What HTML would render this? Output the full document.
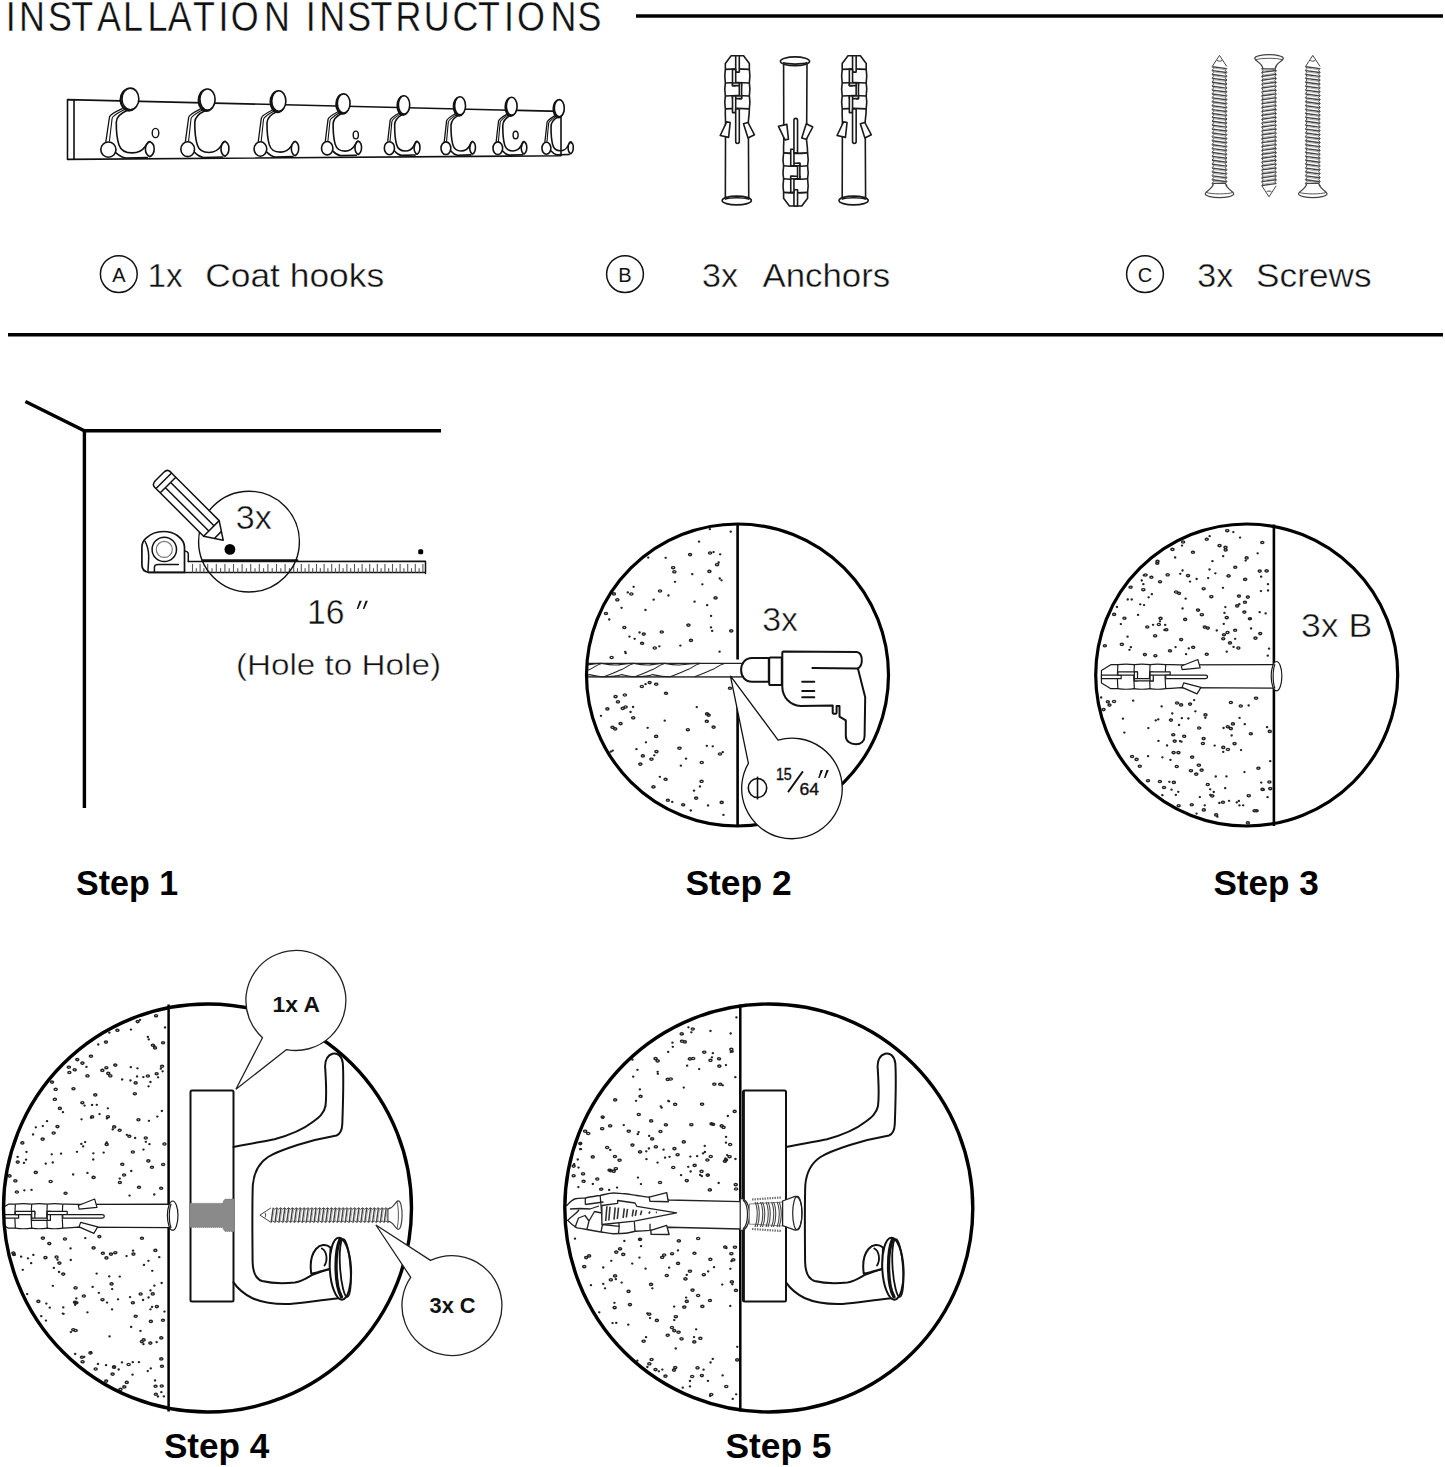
<!DOCTYPE html>
<html><head><meta charset="utf-8">
<style>
html,body{margin:0;padding:0;background:#fff;overflow:hidden;}
svg{display:block;}
text{font-family:"Liberation Sans",sans-serif;}
</style></head>
<body>
<svg width="1445" height="1467" viewBox="0 0 1445 1467">
<rect width="1445" height="1467" fill="#fff"/>
<g font-size="43.2" fill="#111" stroke="#fff" stroke-width="0.35"><text transform="translate(5.8500000000000005,31.2) scale(0.83,1)">I</text><text transform="translate(19.11,31.2) scale(0.83,1)">N</text><text transform="translate(47.92,31.2) scale(0.83,1)">S</text><text transform="translate(71.18,31.2) scale(0.83,1)">T</text><text transform="translate(97.12,31.2) scale(0.83,1)">A</text><text transform="translate(123.12,31.2) scale(0.83,1)">L</text><text transform="translate(147.57,31.2) scale(0.83,1)">L</text><text transform="translate(167.87,31.2) scale(0.83,1)">A</text><text transform="translate(192.88,31.2) scale(0.83,1)">T</text><text transform="translate(218.4,31.2) scale(0.83,1)">I</text><text transform="translate(230.8,31.2) scale(0.83,1)">O</text><text transform="translate(263.90999999999997,31.2) scale(0.83,1)">N</text><text transform="translate(305.84999999999997,31.2) scale(0.83,1)">I</text><text transform="translate(319.21,31.2) scale(0.83,1)">N</text><text transform="translate(347.37,31.2) scale(0.83,1)">S</text><text transform="translate(370.58,31.2) scale(0.83,1)">T</text><text transform="translate(395.52,31.2) scale(0.83,1)">R</text><text transform="translate(423.85999999999996,31.2) scale(0.83,1)">U</text><text transform="translate(452.38,31.2) scale(0.83,1)">C</text><text transform="translate(477.88,31.2) scale(0.83,1)">T</text><text transform="translate(504.0,31.2) scale(0.83,1)">I</text><text transform="translate(516.9,31.2) scale(0.83,1)">O</text><text transform="translate(550.61,31.2) scale(0.83,1)">N</text><text transform="translate(577.62,31.2) scale(0.83,1)">S</text></g>
<line x1="636" y1="16" x2="1443" y2="16" stroke="#000" stroke-width="3.6"/>
<line x1="8" y1="334.8" x2="1443" y2="334.8" stroke="#000" stroke-width="3.6"/>
<g fill="none" stroke="#111" stroke-width="1.5"><circle cx="118.8" cy="274.1" r="18.4"/><circle cx="625" cy="274.1" r="18.4"/><circle cx="1145" cy="274.1" r="18.4"/></g>
<g font-size="20" fill="#111" text-anchor="middle"><text x="118.8" y="281.5">A</text><text x="625" y="281.5">B</text><text x="1145" y="281.5">C</text></g>
<g font-size="32.6" fill="#111" stroke="#fff" stroke-width="0.4"><text x="147.5" y="286.5" textLength="35.2" lengthAdjust="spacingAndGlyphs">1x</text><text x="205.2" y="286.5" textLength="179" lengthAdjust="spacingAndGlyphs">Coat hooks</text><text x="702" y="286.5" textLength="36" lengthAdjust="spacingAndGlyphs">3x</text><text x="762.4" y="286.5" textLength="127.8" lengthAdjust="spacingAndGlyphs">Anchors</text><text x="1197.3" y="286.5" textLength="36" lengthAdjust="spacingAndGlyphs">3x</text><text x="1256.1" y="286.5" textLength="115.5" lengthAdjust="spacingAndGlyphs">Screws</text></g>
<g fill="none" stroke="#111" stroke-width="1.3" stroke-linejoin="round" stroke-linecap="round">
<path d="M67.5,99.6 L561,111.4 M67.5,159.4 L561,155.8 M67.5,99.6 L67.5,159.4 M74,99.8 L74,159.4 M561,111.4 L561,155.8" stroke-width="1.6"/>
</g>
<g transform="translate(108.4,149.6) scale(1,1) translate(-108.4,-149.6)"><g fill="none" stroke="#111" stroke-linejoin="round" stroke-linecap="round"><ellipse vector-effect="non-scaling-stroke" cx="129" cy="99.8" rx="8.45" ry="10.8" fill="#fff" stroke-width="2.2"/><ellipse vector-effect="non-scaling-stroke" cx="130.4" cy="98.9" rx="8.45" ry="10.8" fill="#fff" stroke-width="1.6"/><path vector-effect="non-scaling-stroke" d="M122.3,108.7 C115,112 110,114.5 109.5,117 L105.9,141.4" stroke-width="1.3"/><path vector-effect="non-scaling-stroke" d="M124.7,109.5 C118,113 112.5,115.5 112.1,118.5 L109.4,141.2" stroke-width="1.1"/><path vector-effect="non-scaling-stroke" d="M127.6,110.3 C120,113.5 116.5,117 116.3,122 C116.2,130 117,139 119,145 C121,151 125.5,152.9 132.1,152.9 C138,152.9 142.5,150.5 145.2,146.5 L148.4,142" stroke-width="1.6"/><path vector-effect="non-scaling-stroke" d="M116,152.9 C119,155.5 121.5,157.5 126,158 L147.3,157.6" stroke-width="1.6"/><circle vector-effect="non-scaling-stroke" cx="108.4" cy="149.6" r="7.6" fill="#fff" stroke-width="1.6"/><path vector-effect="non-scaling-stroke" d="M149.8,141.5 C153,143 154.3,146.5 154.2,149.1 C154.1,152.5 152.5,155.5 149.8,156.7 C147,155.5 145.4,152.5 145.4,149.1 C145.5,145.5 147,143 149.8,141.5 Z" fill="#fff" stroke-width="1.6"/></g></g>
<g transform="translate(187.7,149.2) scale(0.9,0.98) translate(-108.4,-149.6)"><g fill="none" stroke="#111" stroke-linejoin="round" stroke-linecap="round"><ellipse vector-effect="non-scaling-stroke" cx="129" cy="99.8" rx="8.45" ry="10.8" fill="#fff" stroke-width="2.2"/><ellipse vector-effect="non-scaling-stroke" cx="130.4" cy="98.9" rx="8.45" ry="10.8" fill="#fff" stroke-width="1.6"/><path vector-effect="non-scaling-stroke" d="M122.3,108.7 C115,112 110,114.5 109.5,117 L105.9,141.4" stroke-width="1.3"/><path vector-effect="non-scaling-stroke" d="M124.7,109.5 C118,113 112.5,115.5 112.1,118.5 L109.4,141.2" stroke-width="1.1"/><path vector-effect="non-scaling-stroke" d="M127.6,110.3 C120,113.5 116.5,117 116.3,122 C116.2,130 117,139 119,145 C121,151 125.5,152.9 132.1,152.9 C138,152.9 142.5,150.5 145.2,146.5 L148.4,142" stroke-width="1.6"/><path vector-effect="non-scaling-stroke" d="M116,152.9 C119,155.5 121.5,157.5 126,158 L147.3,157.6" stroke-width="1.6"/><circle vector-effect="non-scaling-stroke" cx="108.4" cy="149.6" r="7.6" fill="#fff" stroke-width="1.6"/><path vector-effect="non-scaling-stroke" d="M149.8,141.5 C153,143 154.3,146.5 154.2,149.1 C154.1,152.5 152.5,155.5 149.8,156.7 C147,155.5 145.4,152.5 145.4,149.1 C145.5,145.5 147,143 149.8,141.5 Z" fill="#fff" stroke-width="1.6"/></g></g>
<g transform="translate(260.4,149) scale(0.836,0.947) translate(-108.4,-149.6)"><g fill="none" stroke="#111" stroke-linejoin="round" stroke-linecap="round"><ellipse vector-effect="non-scaling-stroke" cx="129" cy="99.8" rx="8.45" ry="10.8" fill="#fff" stroke-width="2.2"/><ellipse vector-effect="non-scaling-stroke" cx="130.4" cy="98.9" rx="8.45" ry="10.8" fill="#fff" stroke-width="1.6"/><path vector-effect="non-scaling-stroke" d="M122.3,108.7 C115,112 110,114.5 109.5,117 L105.9,141.4" stroke-width="1.3"/><path vector-effect="non-scaling-stroke" d="M124.7,109.5 C118,113 112.5,115.5 112.1,118.5 L109.4,141.2" stroke-width="1.1"/><path vector-effect="non-scaling-stroke" d="M127.6,110.3 C120,113.5 116.5,117 116.3,122 C116.2,130 117,139 119,145 C121,151 125.5,152.9 132.1,152.9 C138,152.9 142.5,150.5 145.2,146.5 L148.4,142" stroke-width="1.6"/><path vector-effect="non-scaling-stroke" d="M116,152.9 C119,155.5 121.5,157.5 126,158 L147.3,157.6" stroke-width="1.6"/><circle vector-effect="non-scaling-stroke" cx="108.4" cy="149.6" r="7.6" fill="#fff" stroke-width="1.6"/><path vector-effect="non-scaling-stroke" d="M149.8,141.5 C153,143 154.3,146.5 154.2,149.1 C154.1,152.5 152.5,155.5 149.8,156.7 C147,155.5 145.4,152.5 145.4,149.1 C145.5,145.5 147,143 149.8,141.5 Z" fill="#fff" stroke-width="1.6"/></g></g>
<g transform="translate(327.2,148.2) scale(0.75,0.884) translate(-108.4,-149.6)"><g fill="none" stroke="#111" stroke-linejoin="round" stroke-linecap="round"><ellipse vector-effect="non-scaling-stroke" cx="129" cy="99.8" rx="8.45" ry="10.8" fill="#fff" stroke-width="2.2"/><ellipse vector-effect="non-scaling-stroke" cx="130.4" cy="98.9" rx="8.45" ry="10.8" fill="#fff" stroke-width="1.6"/><path vector-effect="non-scaling-stroke" d="M122.3,108.7 C115,112 110,114.5 109.5,117 L105.9,141.4" stroke-width="1.3"/><path vector-effect="non-scaling-stroke" d="M124.7,109.5 C118,113 112.5,115.5 112.1,118.5 L109.4,141.2" stroke-width="1.1"/><path vector-effect="non-scaling-stroke" d="M127.6,110.3 C120,113.5 116.5,117 116.3,122 C116.2,130 117,139 119,145 C121,151 125.5,152.9 132.1,152.9 C138,152.9 142.5,150.5 145.2,146.5 L148.4,142" stroke-width="1.6"/><path vector-effect="non-scaling-stroke" d="M116,152.9 C119,155.5 121.5,157.5 126,158 L147.3,157.6" stroke-width="1.6"/><circle vector-effect="non-scaling-stroke" cx="108.4" cy="149.6" r="7.6" fill="#fff" stroke-width="1.6"/><path vector-effect="non-scaling-stroke" d="M149.8,141.5 C153,143 154.3,146.5 154.2,149.1 C154.1,152.5 152.5,155.5 149.8,156.7 C147,155.5 145.4,152.5 145.4,149.1 C145.5,145.5 147,143 149.8,141.5 Z" fill="#fff" stroke-width="1.6"/></g></g>
<g transform="translate(389.4,148.2) scale(0.667,0.854) translate(-108.4,-149.6)"><g fill="none" stroke="#111" stroke-linejoin="round" stroke-linecap="round"><ellipse vector-effect="non-scaling-stroke" cx="129" cy="99.8" rx="8.45" ry="10.8" fill="#fff" stroke-width="2.2"/><ellipse vector-effect="non-scaling-stroke" cx="130.4" cy="98.9" rx="8.45" ry="10.8" fill="#fff" stroke-width="1.6"/><path vector-effect="non-scaling-stroke" d="M122.3,108.7 C115,112 110,114.5 109.5,117 L105.9,141.4" stroke-width="1.3"/><path vector-effect="non-scaling-stroke" d="M124.7,109.5 C118,113 112.5,115.5 112.1,118.5 L109.4,141.2" stroke-width="1.1"/><path vector-effect="non-scaling-stroke" d="M127.6,110.3 C120,113.5 116.5,117 116.3,122 C116.2,130 117,139 119,145 C121,151 125.5,152.9 132.1,152.9 C138,152.9 142.5,150.5 145.2,146.5 L148.4,142" stroke-width="1.6"/><path vector-effect="non-scaling-stroke" d="M116,152.9 C119,155.5 121.5,157.5 126,158 L147.3,157.6" stroke-width="1.6"/><circle vector-effect="non-scaling-stroke" cx="108.4" cy="149.6" r="7.6" fill="#fff" stroke-width="1.6"/><path vector-effect="non-scaling-stroke" d="M149.8,141.5 C153,143 154.3,146.5 154.2,149.1 C154.1,152.5 152.5,155.5 149.8,156.7 C147,155.5 145.4,152.5 145.4,149.1 C145.5,145.5 147,143 149.8,141.5 Z" fill="#fff" stroke-width="1.6"/></g></g>
<g transform="translate(445.9,148.2) scale(0.645,0.836) translate(-108.4,-149.6)"><g fill="none" stroke="#111" stroke-linejoin="round" stroke-linecap="round"><ellipse vector-effect="non-scaling-stroke" cx="129" cy="99.8" rx="8.45" ry="10.8" fill="#fff" stroke-width="2.2"/><ellipse vector-effect="non-scaling-stroke" cx="130.4" cy="98.9" rx="8.45" ry="10.8" fill="#fff" stroke-width="1.6"/><path vector-effect="non-scaling-stroke" d="M122.3,108.7 C115,112 110,114.5 109.5,117 L105.9,141.4" stroke-width="1.3"/><path vector-effect="non-scaling-stroke" d="M124.7,109.5 C118,113 112.5,115.5 112.1,118.5 L109.4,141.2" stroke-width="1.1"/><path vector-effect="non-scaling-stroke" d="M127.6,110.3 C120,113.5 116.5,117 116.3,122 C116.2,130 117,139 119,145 C121,151 125.5,152.9 132.1,152.9 C138,152.9 142.5,150.5 145.2,146.5 L148.4,142" stroke-width="1.6"/><path vector-effect="non-scaling-stroke" d="M116,152.9 C119,155.5 121.5,157.5 126,158 L147.3,157.6" stroke-width="1.6"/><circle vector-effect="non-scaling-stroke" cx="108.4" cy="149.6" r="7.6" fill="#fff" stroke-width="1.6"/><path vector-effect="non-scaling-stroke" d="M149.8,141.5 C153,143 154.3,146.5 154.2,149.1 C154.1,152.5 152.5,155.5 149.8,156.7 C147,155.5 145.4,152.5 145.4,149.1 C145.5,145.5 147,143 149.8,141.5 Z" fill="#fff" stroke-width="1.6"/></g></g>
<g transform="translate(497.8,148.2) scale(0.633,0.828) translate(-108.4,-149.6)"><g fill="none" stroke="#111" stroke-linejoin="round" stroke-linecap="round"><ellipse vector-effect="non-scaling-stroke" cx="129" cy="99.8" rx="8.45" ry="10.8" fill="#fff" stroke-width="2.2"/><ellipse vector-effect="non-scaling-stroke" cx="130.4" cy="98.9" rx="8.45" ry="10.8" fill="#fff" stroke-width="1.6"/><path vector-effect="non-scaling-stroke" d="M122.3,108.7 C115,112 110,114.5 109.5,117 L105.9,141.4" stroke-width="1.3"/><path vector-effect="non-scaling-stroke" d="M124.7,109.5 C118,113 112.5,115.5 112.1,118.5 L109.4,141.2" stroke-width="1.1"/><path vector-effect="non-scaling-stroke" d="M127.6,110.3 C120,113.5 116.5,117 116.3,122 C116.2,130 117,139 119,145 C121,151 125.5,152.9 132.1,152.9 C138,152.9 142.5,150.5 145.2,146.5 L148.4,142" stroke-width="1.6"/><path vector-effect="non-scaling-stroke" d="M116,152.9 C119,155.5 121.5,157.5 126,158 L147.3,157.6" stroke-width="1.6"/><circle vector-effect="non-scaling-stroke" cx="108.4" cy="149.6" r="7.6" fill="#fff" stroke-width="1.6"/><path vector-effect="non-scaling-stroke" d="M149.8,141.5 C153,143 154.3,146.5 154.2,149.1 C154.1,152.5 152.5,155.5 149.8,156.7 C147,155.5 145.4,152.5 145.4,149.1 C145.5,145.5 147,143 149.8,141.5 Z" fill="#fff" stroke-width="1.6"/></g></g>
<g transform="translate(546.4,148.2) scale(0.587,0.79) translate(-108.4,-149.6)"><g fill="none" stroke="#111" stroke-linejoin="round" stroke-linecap="round"><ellipse vector-effect="non-scaling-stroke" cx="129" cy="99.8" rx="8.45" ry="10.8" fill="#fff" stroke-width="2.2"/><ellipse vector-effect="non-scaling-stroke" cx="130.4" cy="98.9" rx="8.45" ry="10.8" fill="#fff" stroke-width="1.6"/><path vector-effect="non-scaling-stroke" d="M122.3,108.7 C115,112 110,114.5 109.5,117 L105.9,141.4" stroke-width="1.3"/><path vector-effect="non-scaling-stroke" d="M124.7,109.5 C118,113 112.5,115.5 112.1,118.5 L109.4,141.2" stroke-width="1.1"/><path vector-effect="non-scaling-stroke" d="M127.6,110.3 C120,113.5 116.5,117 116.3,122 C116.2,130 117,139 119,145 C121,151 125.5,152.9 132.1,152.9 C138,152.9 142.5,150.5 145.2,146.5 L148.4,142" stroke-width="1.6"/><path vector-effect="non-scaling-stroke" d="M116,152.9 C119,155.5 121.5,157.5 126,158 L147.3,157.6" stroke-width="1.6"/><circle vector-effect="non-scaling-stroke" cx="108.4" cy="149.6" r="7.6" fill="#fff" stroke-width="1.6"/><path vector-effect="non-scaling-stroke" d="M149.8,141.5 C153,143 154.3,146.5 154.2,149.1 C154.1,152.5 152.5,155.5 149.8,156.7 C147,155.5 145.4,152.5 145.4,149.1 C145.5,145.5 147,143 149.8,141.5 Z" fill="#fff" stroke-width="1.6"/></g></g>
<ellipse cx="155.5" cy="133" rx="3.3" ry="4.6" fill="none" stroke="#111" stroke-width="1.4"/>
<ellipse cx="355.8" cy="135" rx="2.6" ry="3.9" fill="none" stroke="#111" stroke-width="1.4"/>
<ellipse cx="515.6" cy="135" rx="2.5" ry="3.8" fill="none" stroke="#111" stroke-width="1.4"/>
<defs><g id="anc"><g fill="#fff" stroke="#1a1a1a" stroke-width="1.6" stroke-linejoin="round"><path d="M-12,8 L-6.2,0.2 L6.2,0.2 L12,8 L12,13.8 C12.7,18 12.7,23 12,27.4 C12.7,31 12.7,36 12,40.4 C12.7,44 12.7,49 12,53.3 C12,58 11.4,62 11,65.6 L11.4,142.4 L-12,142.4 L-11.8,65.6 C-12,62 -12.2,58 -12,53.3 C-12.7,49 -12.7,44 -12,40.4 C-12.7,36 -12.7,31 -12,27.4 C-12.7,23 -12.7,18 -12,13.8 Z"/><path fill="none" d="M-12,13.8 C-6,13.3 6,13.3 12,13.8 M-12,27.4 C-6,26.9 6,26.9 12,27.4 M-12,40.4 C-6,39.9 6,39.9 12,40.4 M-12,53.3 C-6,52.8 6,52.8 12,53.3"/><path d="M-1.65,0.2 L1.95,0.2 L1.95,16.5 L-1.65,16.5 Z"/><path d="M-4.85,13.8 L-1.65,13.8 L-1.65,30 L-4.85,30 Z"/><path d="M-4.85,27.4 L4.25,27.4 L4.25,30 L-4.85,30 Z"/><path d="M1.95,27.4 L4.25,27.4 L4.25,43 L1.95,43 Z"/><path d="M-4.85,40.4 L4.25,40.4 L4.25,43 L-4.85,43 Z"/><path d="M-4.85,40.4 L-1.65,40.4 L-1.65,57 L-4.85,57 Z"/><path d="M-1.65,53.3 L1.95,53.3 L1.95,86 C1.95,88.5 -1.65,88.5 -1.65,86 Z"/><path d="M-17.15,79.9 L-10.65,66.3 L-7.15,66.9 L-8.75,81.8 Z M6.15,68.2 L10.65,66.9 L17.15,79.2 L10.65,82.4 Z"/><ellipse cx="-0.6" cy="144.9" rx="14.6" ry="4.4"/><path fill="none" d="M-12.5,143.6 C-7,141.6 6,141.6 11.8,143.6"/></g></g></defs>
<use href="#anc" transform="translate(737.35,55.6)"/>
<use href="#anc" transform="translate(795.6,206.2) scale(1,-1)"/>
<use href="#anc" transform="translate(854.2,55.6)"/>
<defs><g id="scr"><g fill="none" stroke="#444" stroke-width="1.0" stroke-linejoin="round"><path d="M-7.2,11 L0,0 L7.2,11" fill="#fff"/><path d="M-2.5,5 C-1,6 1,6 2.5,5"/><path d="M-7.4,11.0 L-5.8,12.9 L-7.4,14.9 L-5.8,16.9 L-7.4,18.8 L-5.8,20.8 L-7.4,22.7 L-5.8,24.6 L-7.4,26.6 L-5.8,28.6 L-7.4,30.5 L-5.8,32.5 L-7.4,34.4 L-5.8,36.4 L-7.4,38.3 L-5.8,40.2 L-7.4,42.2 L-5.8,44.2 L-7.4,46.1 L-5.8,48.1 L-7.4,50.0 L-5.8,52.0 L-7.4,53.9 L-5.8,55.9 L-7.4,57.8 L-5.8,59.8 L-7.4,61.7 L-5.8,63.6 L-7.4,65.6 L-5.8,67.5 L-7.4,69.5 L-5.8,71.5 L-7.4,73.4 L-5.8,75.4 L-7.4,77.3 L-5.8,79.2 L-7.4,81.2 L-5.8,83.2 L-7.4,85.1 L-5.8,87.0 L-7.4,89.0 L-5.8,91.0 L-7.4,92.9 L-5.8,94.8 L-7.4,96.8 L-5.8,98.8 L-7.4,100.7 L-5.8,102.7 L-7.4,104.6 L-5.8,106.5 L-7.4,108.5 L-5.8,110.5 L-7.4,112.4 L-5.8,114.3 L-7.4,116.3 L-5.8,118.2 L-7.4,120.2 L-5.8,122.2 L-7.4,124.1 L-5.8,126.0 L-7.4,128.0 L-5.8,129.9"/><path d="M7.4,12.9 L5.8,14.9 L7.4,16.9 L5.8,18.8 L7.4,20.8 L5.8,22.7 L7.4,24.6 L5.8,26.6 L7.4,28.6 L5.8,30.5 L7.4,32.5 L5.8,34.4 L7.4,36.4 L5.8,38.3 L7.4,40.2 L5.8,42.2 L7.4,44.2 L5.8,46.1 L7.4,48.1 L5.8,50.0 L7.4,52.0 L5.8,53.9 L7.4,55.9 L5.8,57.8 L7.4,59.8 L5.8,61.7 L7.4,63.6 L5.8,65.6 L7.4,67.5 L5.8,69.5 L7.4,71.5 L5.8,73.4 L7.4,75.4 L5.8,77.3 L7.4,79.2 L5.8,81.2 L7.4,83.2 L5.8,85.1 L7.4,87.0 L5.8,89.0 L7.4,91.0 L5.8,92.9 L7.4,94.8 L5.8,96.8 L7.4,98.8 L5.8,100.7 L7.4,102.7 L5.8,104.6 L7.4,106.5 L5.8,108.5 L7.4,110.5 L5.8,112.4 L7.4,114.3 L5.8,116.3 L7.4,118.2 L5.8,120.2 L7.4,122.2 L5.8,124.1 L7.4,126.0 L5.8,128.0 L7.4,129.9 L5.8,131.9"/><path d="M-7,11.3 L7,13.2 M-7,15.2 L7,17.1 M-7,19.1 L7,21.0 M-7,23.0 L7,24.9 M-7,26.9 L7,28.8 M-7,30.8 L7,32.7 M-7,34.7 L7,36.6 M-7,38.6 L7,40.5 M-7,42.5 L7,44.4 M-7,46.4 L7,48.3 M-7,50.3 L7,52.2 M-7,54.2 L7,56.1 M-7,58.1 L7,60.0 M-7,62.0 L7,63.9 M-7,65.9 L7,67.8 M-7,69.8 L7,71.7 M-7,73.7 L7,75.6 M-7,77.6 L7,79.5 M-7,81.5 L7,83.4 M-7,85.4 L7,87.3 M-7,89.3 L7,91.2 M-7,93.2 L7,95.1 M-7,97.1 L7,99.0 M-7,101.0 L7,102.9 M-7,104.9 L7,106.8 M-7,108.8 L7,110.7 M-7,112.7 L7,114.6 M-7,116.6 L7,118.5 M-7,120.5 L7,122.4 M-7,124.4 L7,126.3 M-7,128.3 L7,130.2" stroke-width="1.4"/><path d="M-6,12.6 L6,14.4 M-6,16.5 L6,18.3 M-6,20.4 L6,22.2 M-6,24.3 L6,26.1 M-6,28.2 L6,30.0 M-6,32.1 L6,33.9 M-6,36.0 L6,37.8 M-6,39.9 L6,41.7 M-6,43.8 L6,45.6 M-6,47.7 L6,49.5 M-6,51.6 L6,53.4 M-6,55.5 L6,57.3 M-6,59.4 L6,61.2 M-6,63.3 L6,65.1 M-6,67.2 L6,69.0 M-6,71.1 L6,72.9 M-6,75.0 L6,76.8 M-6,78.9 L6,80.7 M-6,82.8 L6,84.6 M-6,86.7 L6,88.5 M-6,90.6 L6,92.4 M-6,94.5 L6,96.3 M-6,98.4 L6,100.2 M-6,102.3 L6,104.1 M-6,106.2 L6,108.0 M-6,110.1 L6,111.9 M-6,114.0 L6,115.8 M-6,117.9 L6,119.7 M-6,121.8 L6,123.6 M-6,125.7 L6,127.5 M-6,129.6 L6,131.4" stroke="#999" stroke-width="0.8"/><path d="M-6,128 C-7,134 -13,135 -14.2,138 C-15,141 -6,142.2 0,142.2 C6,142.2 15,141 14.2,138 C13,135 7,134 6,128 Z" fill="#fff" stroke-width="1.2"/><path d="M-13.5,137 C-8,139 8,139 13.5,137" stroke-width="0.9"/></g></g></defs>
<use href="#scr" transform="translate(1219.5,55.4)"/>
<use href="#scr" transform="translate(1269,196.8) scale(1,-1)"/>
<use href="#scr" transform="translate(1312.8,55.4)"/>
<polyline points="25.4,401.6 84.4,430.7 441,430.7" fill="none" stroke="#000" stroke-width="3.4" stroke-linejoin="miter"/>
<line x1="84.4" y1="430.7" x2="84.4" y2="808" stroke="#000" stroke-width="3.4"/>
<g fill="none" stroke="#111" stroke-width="1.4" stroke-linejoin="round" stroke-linecap="round">
<path d="M148.7,572.4 C144,572 141.9,569 141.9,564.6 L141.9,547.8 C141.9,543 143.5,540 146.4,537.9 C151,533.5 157,531.5 163.2,531.5 C169,531.5 174,533 177.6,535.7 C182,539 184.5,543 184.5,547.1 L184.5,572.4 Z" fill="#fff" stroke-width="1.7"/>
<path d="M184.7,550.9 L186.8,551.6 C187.8,552.2 188.3,553 188.3,554 L188.3,561.5" stroke-width="1.5"/>
<path d="M144.9,541 C147.5,546 148.7,551 148.7,556 C148.7,561 148.3,566 147.9,571.4" stroke-width="1.5"/>
<circle cx="164.3" cy="549.4" r="12.2" stroke-width="1.5"/>
<circle cx="164.3" cy="549.4" r="8" stroke="#777" stroke-width="1.2"/>
<path d="M154.4,572.2 L154.4,567.8 C154.4,565.5 155.8,564.6 158,564.6 L178.4,564.6" stroke-width="1.5"/>
<path d="M188.3,561.5 L425.5,561.3 L425.5,573.6 M148.7,572.6 L425.5,572.2" stroke-width="1.5"/>
<path d="M192.5,572.2 L192.5,564.3 M196.3,572.2 L196.3,568.5 M200.1,572.2 L200.1,564.3 M203.9,572.2 L203.9,568.5 M207.7,572.2 L207.7,564.3 M212.0,572.2 L212.0,568.5 M216.3,572.2 L216.3,564.3 M220.6,572.2 L220.6,568.5 M224.9,572.2 L224.9,564.3 M229.2,572.2 L229.2,568.5 M233.5,572.2 L233.5,564.3 M237.8,572.2 L237.8,568.5 M242.1,572.2 L242.1,564.3 M246.4,572.2 L246.4,568.5 M250.7,572.2 L250.7,564.3 M255.0,572.2 L255.0,568.5 M259.3,572.2 L259.3,564.3 M263.6,572.2 L263.6,568.5 M267.9,572.2 L267.9,564.3 M272.2,572.2 L272.2,568.5 M276.5,572.2 L276.5,564.3 M280.8,572.2 L280.8,568.5 M285.1,572.2 L285.1,564.3 M289.4,572.2 L289.4,568.5 M293.7,572.2 L293.7,564.3 M297.5,572.2 L297.5,568.5 M301.3,572.2 L301.3,564.3 M305.1,572.2 L305.1,568.5 M308.9,572.2 L308.9,564.3 M312.7,572.2 L312.7,568.5 M316.5,572.2 L316.5,564.3 M320.3,572.2 L320.3,568.5 M324.1,572.2 L324.1,564.3 M327.9,572.2 L327.9,568.5 M331.7,572.2 L331.7,564.3 M335.5,572.2 L335.5,568.5 M339.3,572.2 L339.3,564.3 M343.1,572.2 L343.1,568.5 M346.9,572.2 L346.9,564.3 M350.7,572.2 L350.7,568.5 M354.5,572.2 L354.5,564.3 M358.3,572.2 L358.3,568.5 M362.1,572.2 L362.1,564.3 M365.9,572.2 L365.9,568.5 M369.7,572.2 L369.7,564.3 M373.5,572.2 L373.5,568.5 M377.3,572.2 L377.3,564.3 M381.1,572.2 L381.1,568.5 M384.9,572.2 L384.9,564.3 M388.7,572.2 L388.7,568.5 M392.5,572.2 L392.5,564.3 M396.3,572.2 L396.3,568.5 M400.1,572.2 L400.1,564.3 M403.9,572.2 L403.9,568.5 M407.7,572.2 L407.7,564.3 M411.5,572.2 L411.5,568.5 M415.3,572.2 L415.3,564.3 M419.1,572.2 L419.1,568.5 M422.9,572.2 L422.9,564.3" stroke="#555" stroke-width="1.1"/>
<path d="M202.3,560.2 L297.5,560.2" stroke-width="1.8"/>
<circle cx="249" cy="541.6" r="50.4" stroke-width="1.4"/>
</g>
<g transform="translate(223.2,540.2) rotate(45)" fill="#fff" stroke="#111" stroke-width="1.5" stroke-linejoin="round">
<path d="M0,0 L-16.7,-11 L-83,-11 L-86,-11 C-89.5,-11 -90,-9 -90,-6 L-90,6 C-90,9 -89.5,11 -86,11 L-16.7,11 Z"/>
<path fill="none" d="M-16.7,-11 L-16.7,11 M-84,-11 L-84,11 M-78,-11 L-78,11 M-78,-3.7 L-16.7,-3.7 M-78,3.7 L-16.7,3.7 M-7.5,-5 L-7.5,5"/>
</g>
<circle cx="229.9" cy="549.4" r="5.4" fill="#000"/>
<rect x="418.2" y="549.2" width="5" height="5" rx="1.5" fill="#000"/>
<text x="235.7" y="529.1" font-size="32.5" fill="#111" style="white-space:pre" textLength="36" lengthAdjust="spacingAndGlyphs" stroke="#fff" stroke-width="0.45">3x</text>
<text x="307" y="623.5" font-size="34.2" fill="#111" style="white-space:pre" textLength="37.5" lengthAdjust="spacingAndGlyphs" stroke="#fff" stroke-width="0.45">16</text>
<g fill="#111"><path d="M359.5,600.7 L361.8,600.7 L358.2,609 L356.7,609 Z M365.6,600.7 L367.9,600.7 L364.3,609 L362.8,609 Z"/></g>
<text x="235.9" y="674.5" font-size="29.7" fill="#111" style="white-space:pre" textLength="205.1" lengthAdjust="spacingAndGlyphs" stroke="#fff" stroke-width="0.45">(Hole to Hole)</text>
<defs><clipPath id="c2"><circle cx="737.5" cy="675" r="151"/></clipPath></defs>
<path d="M672.8,571.8 a1.55,1.1 0 1,0 3.1,0 a1.55,1.1 0 1,0 -3.1,0 M728.4,688.3 a1.55,1.1 0 1,0 3.1,0 a1.55,1.1 0 1,0 -3.1,0 M664.4,693.3 a1.55,1.1 0 1,0 3.1,0 a1.55,1.1 0 1,0 -3.1,0 M700.2,762.5 a1.55,1.1 0 1,0 3.1,0 a1.55,1.1 0 1,0 -3.1,0 M654.7,684.2 a1.55,1.1 0 1,0 3.1,0 a1.55,1.1 0 1,0 -3.1,0 M658.5,591.0 a1.55,1.1 0 1,0 3.1,0 a1.55,1.1 0 1,0 -3.1,0 M694.6,798.1 a1.55,1.1 0 1,0 3.1,0 a1.55,1.1 0 1,0 -3.1,0 M714.0,597.9 a1.55,1.1 0 1,0 3.1,0 a1.55,1.1 0 1,0 -3.1,0 M610.9,727.2 a1.55,1.1 0 1,0 3.1,0 a1.55,1.1 0 1,0 -3.1,0 M707.8,571.4 a1.55,1.1 0 1,0 3.1,0 a1.55,1.1 0 1,0 -3.1,0 M689.4,640.4 a1.55,1.1 0 1,0 3.1,0 a1.55,1.1 0 1,0 -3.1,0 M677.9,748.2 a1.55,1.1 0 1,0 3.1,0 a1.55,1.1 0 1,0 -3.1,0 M619.0,723.6 a1.55,1.1 0 1,0 3.1,0 a1.55,1.1 0 1,0 -3.1,0 M624.1,707.0 a1.55,1.1 0 1,0 3.1,0 a1.55,1.1 0 1,0 -3.1,0 M612.4,593.9 a1.55,1.1 0 1,0 3.1,0 a1.55,1.1 0 1,0 -3.1,0 M631.7,717.8 a1.55,1.1 0 1,0 3.1,0 a1.55,1.1 0 1,0 -3.1,0 M648.1,682.6 a1.55,1.1 0 1,0 3.1,0 a1.55,1.1 0 1,0 -3.1,0 M688.5,554.6 a1.55,1.1 0 1,0 3.1,0 a1.55,1.1 0 1,0 -3.1,0 M712.0,727.1 a1.55,1.1 0 1,0 3.1,0 a1.55,1.1 0 1,0 -3.1,0 M653.2,648.0 a1.55,1.1 0 1,0 3.1,0 a1.55,1.1 0 1,0 -3.1,0 M616.4,701.8 a1.55,1.1 0 1,0 3.1,0 a1.55,1.1 0 1,0 -3.1,0 M614.0,696.6 a1.55,1.1 0 1,0 3.1,0 a1.55,1.1 0 1,0 -3.1,0 M654.9,751.6 a1.55,1.1 0 1,0 3.1,0 a1.55,1.1 0 1,0 -3.1,0 M660.2,632.0 a1.55,1.1 0 1,0 3.1,0 a1.55,1.1 0 1,0 -3.1,0 M629.8,594.0 a1.55,1.1 0 1,0 3.1,0 a1.55,1.1 0 1,0 -3.1,0 M708.5,553.0 a1.55,1.1 0 1,0 3.1,0 a1.55,1.1 0 1,0 -3.1,0 M604.4,613.5 a1.55,1.1 0 1,0 3.1,0 a1.55,1.1 0 1,0 -3.1,0 M686.3,729.7 a1.55,1.1 0 1,0 3.1,0 a1.55,1.1 0 1,0 -3.1,0 M654.6,736.4 a1.55,1.1 0 1,0 3.1,0 a1.55,1.1 0 1,0 -3.1,0 M671.6,567.7 a1.55,1.1 0 1,0 3.1,0 a1.55,1.1 0 1,0 -3.1,0 M700.0,781.3 a1.55,1.1 0 1,0 3.1,0 a1.55,1.1 0 1,0 -3.1,0 M605.8,708.9 a1.55,1.1 0 1,0 3.1,0 a1.55,1.1 0 1,0 -3.1,0 M623.3,695.0 a1.55,1.1 0 1,0 3.1,0 a1.55,1.1 0 1,0 -3.1,0 M686.9,625.1 a1.55,1.1 0 1,0 3.1,0 a1.55,1.1 0 1,0 -3.1,0 M715.5,564.7 a1.55,1.1 0 1,0 3.1,0 a1.55,1.1 0 1,0 -3.1,0 M640.3,686.5 a1.55,1.1 0 1,0 3.1,0 a1.55,1.1 0 1,0 -3.1,0 M651.9,786.9 a1.55,1.1 0 1,0 3.1,0 a1.55,1.1 0 1,0 -3.1,0 M666.3,800.2 a1.55,1.1 0 1,0 3.1,0 a1.55,1.1 0 1,0 -3.1,0 M705.2,721.3 a1.55,1.1 0 1,0 3.1,0 a1.55,1.1 0 1,0 -3.1,0 M705.5,713.9 a1.55,1.1 0 1,0 3.1,0 a1.55,1.1 0 1,0 -3.1,0 M642.2,634.1 a1.55,1.1 0 1,0 3.1,0 a1.55,1.1 0 1,0 -3.1,0 M610.1,657.5 a1.55,1.1 0 1,0 3.1,0 a1.55,1.1 0 1,0 -3.1,0 M720.1,802.4 a1.55,1.1 0 1,0 3.1,0 a1.55,1.1 0 1,0 -3.1,0 M681.6,804.8 a1.55,1.1 0 1,0 3.1,0 a1.55,1.1 0 1,0 -3.1,0 M613.6,728.9 a1.55,1.1 0 1,0 3.1,0 a1.55,1.1 0 1,0 -3.1,0 M638.8,764.1 a1.55,1.1 0 1,0 3.1,0 a1.55,1.1 0 1,0 -3.1,0 M707.1,715.1 a1.55,1.1 0 1,0 3.1,0 a1.55,1.1 0 1,0 -3.1,0 M640.5,643.3 a1.55,1.1 0 1,0 3.1,0 a1.55,1.1 0 1,0 -3.1,0 M729.7,630.9 a1.55,1.1 0 1,0 3.1,0 a1.55,1.1 0 1,0 -3.1,0 M718.4,754.0 a1.55,1.1 0 1,0 3.1,0 a1.55,1.1 0 1,0 -3.1,0 M615.8,599.8 a1.55,1.1 0 1,0 3.1,0 a1.55,1.1 0 1,0 -3.1,0 M622.8,627.5 a1.55,1.1 0 1,0 3.1,0 a1.55,1.1 0 1,0 -3.1,0 M621.2,708.4 a1.55,1.1 0 1,0 3.1,0 a1.55,1.1 0 1,0 -3.1,0 M641.3,755.9 a1.55,1.1 0 1,0 3.1,0 a1.55,1.1 0 1,0 -3.1,0 M649.9,759.2 a1.55,1.1 0 1,0 3.1,0 a1.55,1.1 0 1,0 -3.1,0 M664.0,779.3 a1.55,1.1 0 1,0 3.1,0 a1.55,1.1 0 1,0 -3.1,0" fill="none" stroke="#222" stroke-width="1.4"/>
<path d="M711.5,746.3 a1.25,1.15 0 1,0 2.5,0 a1.25,1.15 0 1,0 -2.5,0 M631.8,707.0 a1.25,1.15 0 1,0 2.5,0 a1.25,1.15 0 1,0 -2.5,0 M644.7,742.3 a1.25,1.15 0 1,0 2.5,0 a1.25,1.15 0 1,0 -2.5,0 M633.4,638.8 a1.25,1.15 0 1,0 2.5,0 a1.25,1.15 0 1,0 -2.5,0 M705.6,745.8 a1.25,1.15 0 1,0 2.5,0 a1.25,1.15 0 1,0 -2.5,0 M609.6,751.7 a1.25,1.15 0 1,0 2.5,0 a1.25,1.15 0 1,0 -2.5,0 M710.9,630.9 a1.25,1.15 0 1,0 2.5,0 a1.25,1.15 0 1,0 -2.5,0 M671.0,801.9 a1.25,1.15 0 1,0 2.5,0 a1.25,1.15 0 1,0 -2.5,0 M691.0,574.2 a1.25,1.15 0 1,0 2.5,0 a1.25,1.15 0 1,0 -2.5,0 M663.5,720.7 a1.25,1.15 0 1,0 2.5,0 a1.25,1.15 0 1,0 -2.5,0 M632.4,586.8 a1.25,1.15 0 1,0 2.5,0 a1.25,1.15 0 1,0 -2.5,0 M697.8,541.7 a1.25,1.15 0 1,0 2.5,0 a1.25,1.15 0 1,0 -2.5,0 M626.5,592.4 a1.25,1.15 0 1,0 2.5,0 a1.25,1.15 0 1,0 -2.5,0 M718.3,651.7 a1.25,1.15 0 1,0 2.5,0 a1.25,1.15 0 1,0 -2.5,0 M729.5,531.7 a1.25,1.15 0 1,0 2.5,0 a1.25,1.15 0 1,0 -2.5,0 M653.0,755.3 a1.25,1.15 0 1,0 2.5,0 a1.25,1.15 0 1,0 -2.5,0 M721.5,752.2 a1.25,1.15 0 1,0 2.5,0 a1.25,1.15 0 1,0 -2.5,0 M717.4,562.5 a1.25,1.15 0 1,0 2.5,0 a1.25,1.15 0 1,0 -2.5,0 M599.7,715.8 a1.25,1.15 0 1,0 2.5,0 a1.25,1.15 0 1,0 -2.5,0 M652.4,599.7 a1.25,1.15 0 1,0 2.5,0 a1.25,1.15 0 1,0 -2.5,0 M679.6,765.7 a1.25,1.15 0 1,0 2.5,0 a1.25,1.15 0 1,0 -2.5,0 M624.0,651.8 a1.25,1.15 0 1,0 2.5,0 a1.25,1.15 0 1,0 -2.5,0 M647.0,557.6 a1.25,1.15 0 1,0 2.5,0 a1.25,1.15 0 1,0 -2.5,0 M722.2,814.9 a1.25,1.15 0 1,0 2.5,0 a1.25,1.15 0 1,0 -2.5,0 M628.2,636.6 a1.25,1.15 0 1,0 2.5,0 a1.25,1.15 0 1,0 -2.5,0 M684.8,758.7 a1.25,1.15 0 1,0 2.5,0 a1.25,1.15 0 1,0 -2.5,0 M705.9,605.2 a1.25,1.15 0 1,0 2.5,0 a1.25,1.15 0 1,0 -2.5,0 M706.8,805.5 a1.25,1.15 0 1,0 2.5,0 a1.25,1.15 0 1,0 -2.5,0 M624.4,653.2 a1.25,1.15 0 1,0 2.5,0 a1.25,1.15 0 1,0 -2.5,0 M664.4,557.8 a1.25,1.15 0 1,0 2.5,0 a1.25,1.15 0 1,0 -2.5,0 M693.3,601.7 a1.25,1.15 0 1,0 2.5,0 a1.25,1.15 0 1,0 -2.5,0 M718.5,578.5 a1.25,1.15 0 1,0 2.5,0 a1.25,1.15 0 1,0 -2.5,0 M658.1,646.3 a1.25,1.15 0 1,0 2.5,0 a1.25,1.15 0 1,0 -2.5,0 M635.2,749.2 a1.25,1.15 0 1,0 2.5,0 a1.25,1.15 0 1,0 -2.5,0 M679.1,645.6 a1.25,1.15 0 1,0 2.5,0 a1.25,1.15 0 1,0 -2.5,0 M692.8,790.7 a1.25,1.15 0 1,0 2.5,0 a1.25,1.15 0 1,0 -2.5,0 M708.6,529.2 a1.25,1.15 0 1,0 2.5,0 a1.25,1.15 0 1,0 -2.5,0 M695.5,707.1 a1.25,1.15 0 1,0 2.5,0 a1.25,1.15 0 1,0 -2.5,0 M718.9,554.3 a1.25,1.15 0 1,0 2.5,0 a1.25,1.15 0 1,0 -2.5,0 M701.1,584.3 a1.25,1.15 0 1,0 2.5,0 a1.25,1.15 0 1,0 -2.5,0 M673.8,581.8 a1.25,1.15 0 1,0 2.5,0 a1.25,1.15 0 1,0 -2.5,0 M658.6,776.8 a1.25,1.15 0 1,0 2.5,0 a1.25,1.15 0 1,0 -2.5,0 M611.5,750.6 a1.25,1.15 0 1,0 2.5,0 a1.25,1.15 0 1,0 -2.5,0 M646.4,727.8 a1.25,1.15 0 1,0 2.5,0 a1.25,1.15 0 1,0 -2.5,0 M709.8,615.9 a1.25,1.15 0 1,0 2.5,0 a1.25,1.15 0 1,0 -2.5,0 M712.3,552.1 a1.25,1.15 0 1,0 2.5,0 a1.25,1.15 0 1,0 -2.5,0 M644.3,684.2 a1.25,1.15 0 1,0 2.5,0 a1.25,1.15 0 1,0 -2.5,0 M620.3,607.8 a1.25,1.15 0 1,0 2.5,0 a1.25,1.15 0 1,0 -2.5,0 M709.7,627.4 a1.25,1.15 0 1,0 2.5,0 a1.25,1.15 0 1,0 -2.5,0 M689.5,810.5 a1.25,1.15 0 1,0 2.5,0 a1.25,1.15 0 1,0 -2.5,0 M698.7,786.5 a1.25,1.15 0 1,0 2.5,0 a1.25,1.15 0 1,0 -2.5,0 M629.3,712.0 a1.25,1.15 0 1,0 2.5,0 a1.25,1.15 0 1,0 -2.5,0 M720.3,580.3 a1.25,1.15 0 1,0 2.5,0 a1.25,1.15 0 1,0 -2.5,0 M638.3,632.5 a1.25,1.15 0 1,0 2.5,0 a1.25,1.15 0 1,0 -2.5,0 M667.2,595.5 a1.25,1.15 0 1,0 2.5,0 a1.25,1.15 0 1,0 -2.5,0 M644.2,610.0 a1.25,1.15 0 1,0 2.5,0 a1.25,1.15 0 1,0 -2.5,0 M608.0,619.5 a1.25,1.15 0 1,0 2.5,0 a1.25,1.15 0 1,0 -2.5,0" fill="#222"/>
<path d="M737.6,524 L737.6,659.4 M737.6,706 L737.6,826" stroke="#000" stroke-width="2.6"/>
<g clip-path="url(#c2)" fill="none" stroke="#222" stroke-width="1.05">
<path d="M580,663.4 L742,663.4 M580,676.8 L742,676.8" fill="#fff"/>
<rect x="580" y="663.4" width="162" height="13.4" fill="#fff" stroke="none"/>
<path d="M580,663.4 L742,663.4 M580,676.8 L742,676.8" stroke-width="1.2"/>
<path d="M541.0,676.8 C549.0,674 555.0,671 559.0,669.5 C563.0,668 565.0,665 571.0,663.4"/>
<path d="M571.6,676.8 C579.6,674 585.6,671 589.6,669.5 C593.6,668 595.6,665 601.6,663.4"/>
<path d="M603.7,676.8 C611.7,674 617.7,671 621.7,669.5 C625.7,668 627.7,665 633.7,663.4"/>
<path d="M634.7,676.8 C642.7,674 648.7,671 652.7,669.5 C656.7,668 658.7,665 664.7,663.4"/>
<path d="M670.0,676.8 C678.0,674 684.0,671 688.0,669.5 C692.0,668 694.0,665 700.0,663.4"/>
<path d="M694.5,676.8 C702.5,674 708.5,671 712.5,669.5 C716.5,668 718.5,665 724.5,663.4"/>
<path d="M571.0,663.4 C577.0,664.6 581.0,665.2 586.0,665 C591.0,664.6 593.6,663.4 601.6,663.4" stroke-width="1.1"/>
<path d="M541.0,676.8 C551.0,676.8 557.0,675.5 559.0,674.6 C563.0,675.5 565.6,676.8 571.6,676.8" stroke-width="1.1"/>
<path d="M601.6,663.4 C607.6,664.6 611.6,665.2 616.6,665 C621.6,664.6 625.7,663.4 633.7,663.4" stroke-width="1.1"/>
<path d="M571.6,676.8 C581.6,676.8 587.6,675.5 589.6,674.6 C593.6,675.5 597.7,676.8 603.7,676.8" stroke-width="1.1"/>
<path d="M633.7,663.4 C639.7,664.6 643.7,665.2 648.7,665 C653.7,664.6 656.7,663.4 664.7,663.4" stroke-width="1.1"/>
<path d="M603.7,676.8 C613.7,676.8 619.7,675.5 621.7,674.6 C625.7,675.5 628.7,676.8 634.7,676.8" stroke-width="1.1"/>
<path d="M664.7,663.4 C670.7,664.6 674.7,665.2 679.7,665 C684.7,664.6 692.0,663.4 700.0,663.4" stroke-width="1.1"/>
<path d="M634.7,676.8 C644.7,676.8 650.7,675.5 652.7,674.6 C656.7,675.5 664.0,676.8 670.0,676.8" stroke-width="1.1"/>
</g>
<g fill="#fff" stroke="#111" stroke-width="2" stroke-linejoin="round" stroke-linecap="round">
<path d="M768.8,657.9 L752,657.9 C745.5,657.9 741.1,663 741.1,670 C741.1,677 745.5,681.7 752,681.7 L768.8,681.7 Z"/>
<path d="M770.5,657.4 L781.8,657.4 L781.8,685.1 L770.5,685.1 C769.5,685.1 769.2,684.5 769.2,683.5 L769.2,659 C769.2,658 769.5,657.4 770.5,657.4 Z"/>
<path d="M783.5,651.6 L856.9,652.1 C859.8,652.5 861.8,656 861.8,660.8 C861.8,664 860.5,666.8 857.9,668.6 L865.2,697.2 L864.6,735.9 C864.6,741 861,744.2 856,744.2 C850,744.2 845.8,741 845.8,735.9 L845.8,720.4 L839.5,716.6 L839.5,705.9 L836.6,705.9 L836.6,712.5 C836.6,713.6 836,713.8 834.6,713.8 C833.3,713.8 832.7,713.5 832.7,712.5 L832.7,705.4 L800.7,705.9 C790,705.5 782.3,697 782.3,686.5 L782.3,653 C782.3,652 782.8,651.6 783.5,651.6 Z"/>
<path fill="none" d="M812.4,668.1 L857.9,668.6 M802.2,681.7 L814.3,681.7 M802.2,690.9 L814.3,690.9 M802.2,697.2 L814.3,697.2"/>
</g>
<circle cx="737.5" cy="675" r="151" fill="none" stroke="#000" stroke-width="3.2"/>
<path d="M778.1,740.1 L730.4,675.8 L748.4,763.3 A50.3,50.3 0 1,0 778.1,740.1 Z" fill="#fff" stroke="#111" stroke-width="1.3" stroke-linejoin="miter"/>
<g fill="none" stroke="#111" stroke-width="1.6"><ellipse cx="757.5" cy="788" rx="9.2" ry="9.5"/><line x1="757.5" y1="776.6" x2="757.5" y2="799.5"/><line x1="788" y1="792.1" x2="802.9" y2="771.4" stroke-width="1.8"/></g>
<text x="775.9" y="779.8" font-size="15.9" fill="#111" style="white-space:pre" textLength="15.9" lengthAdjust="spacingAndGlyphs" stroke="#111" stroke-width="0.4">15</text>
<text x="799.4" y="794.7" font-size="17" fill="#111" style="white-space:pre" textLength="19.5" lengthAdjust="spacingAndGlyphs" stroke="#111" stroke-width="0.4">64</text>
<path d="M820.6,770 L823,770 L819.6,777.9 L818.2,777.9 Z M826.4,770 L828.8,770 L825.4,777.9 L824,777.9 Z" fill="#111"/>
<text x="762.2" y="631.4" font-size="33.6" fill="#111" style="white-space:pre" textLength="35.8" lengthAdjust="spacingAndGlyphs" stroke="#fff" stroke-width="0.45">3x</text>
<defs><g id="ancH"><g fill="#fff" stroke="#1a1a1a" stroke-width="1.2" stroke-linejoin="round"><path vector-effect="non-scaling-stroke" d="M-12,8 L-6.2,0.2 L6.2,0.2 L12,8 L12,13.8 C12.7,18 12.7,23 12,27.4 C12.7,31 12.7,36 12,40.4 C12.7,44 12.7,49 12,53.3 C12,58 11.4,62 11,65.6 L11.4,142.4 L-12,142.4 L-11.8,65.6 C-12,62 -12.2,58 -12,53.3 C-12.7,49 -12.7,44 -12,40.4 C-12.7,36 -12.7,31 -12,27.4 C-12.7,23 -12.7,18 -12,13.8 Z"/><path vector-effect="non-scaling-stroke" fill="none" d="M-12,13.8 C-6,13.3 6,13.3 12,13.8 M-12,27.4 C-6,26.9 6,26.9 12,27.4 M-12,40.4 C-6,39.9 6,39.9 12,40.4 M-12,53.3 C-6,52.8 6,52.8 12,53.3"/><path vector-effect="non-scaling-stroke" d="M-1.65,0.2 L1.95,0.2 L1.95,16.5 L-1.65,16.5 Z"/><path vector-effect="non-scaling-stroke" d="M-4.85,13.8 L-1.65,13.8 L-1.65,30 L-4.85,30 Z"/><path vector-effect="non-scaling-stroke" d="M-4.85,27.4 L4.25,27.4 L4.25,30 L-4.85,30 Z"/><path vector-effect="non-scaling-stroke" d="M1.95,27.4 L4.25,27.4 L4.25,43 L1.95,43 Z"/><path vector-effect="non-scaling-stroke" d="M-4.85,40.4 L4.25,40.4 L4.25,43 L-4.85,43 Z"/><path vector-effect="non-scaling-stroke" d="M-4.85,40.4 L-1.65,40.4 L-1.65,57 L-4.85,57 Z"/><path vector-effect="non-scaling-stroke" d="M-1.65,53.3 L1.95,53.3 L1.95,86 C1.95,88.5 -1.65,88.5 -1.65,86 Z"/><path vector-effect="non-scaling-stroke" d="M-17.15,79.9 L-10.65,66.3 L-7.15,66.9 L-8.75,81.8 Z M6.15,68.2 L10.65,66.9 L17.15,79.2 L10.65,82.4 Z"/><ellipse vector-effect="non-scaling-stroke" cx="-0.6" cy="144.9" rx="14.6" ry="4.4"/><path vector-effect="non-scaling-stroke" fill="none" d="M-12.5,143.6 C-7,141.6 6,141.6 11.8,143.6"/></g></g><clipPath id="c3"><circle cx="1246.7" cy="675" r="151"/></clipPath><clipPath id="c4"><circle cx="207.5" cy="1208" r="204"/></clipPath><clipPath id="c5"><circle cx="768.8" cy="1208" r="204"/></clipPath></defs>
<path d="M1243.4,602.3 a1.55,1.1 0 1,0 3.1,0 a1.55,1.1 0 1,0 -3.1,0 M1226.2,726.8 a1.55,1.1 0 1,0 3.1,0 a1.55,1.1 0 1,0 -3.1,0 M1229.3,702.5 a1.55,1.1 0 1,0 3.1,0 a1.55,1.1 0 1,0 -3.1,0 M1221.4,802.2 a1.55,1.1 0 1,0 3.1,0 a1.55,1.1 0 1,0 -3.1,0 M1260.9,789.4 a1.55,1.1 0 1,0 3.1,0 a1.55,1.1 0 1,0 -3.1,0 M1196.4,610.1 a1.55,1.1 0 1,0 3.1,0 a1.55,1.1 0 1,0 -3.1,0 M1246.3,822.9 a1.55,1.1 0 1,0 3.1,0 a1.55,1.1 0 1,0 -3.1,0 M1236.8,648.0 a1.55,1.1 0 1,0 3.1,0 a1.55,1.1 0 1,0 -3.1,0 M1102.0,709.6 a1.55,1.1 0 1,0 3.1,0 a1.55,1.1 0 1,0 -3.1,0 M1107.9,705.1 a1.55,1.1 0 1,0 3.1,0 a1.55,1.1 0 1,0 -3.1,0 M1253.9,638.1 a1.55,1.1 0 1,0 3.1,0 a1.55,1.1 0 1,0 -3.1,0 M1203.9,714.9 a1.55,1.1 0 1,0 3.1,0 a1.55,1.1 0 1,0 -3.1,0 M1225.7,530.7 a1.55,1.1 0 1,0 3.1,0 a1.55,1.1 0 1,0 -3.1,0 M1214.6,814.9 a1.55,1.1 0 1,0 3.1,0 a1.55,1.1 0 1,0 -3.1,0 M1175.5,703.0 a1.55,1.1 0 1,0 3.1,0 a1.55,1.1 0 1,0 -3.1,0 M1159.0,618.4 a1.55,1.1 0 1,0 3.1,0 a1.55,1.1 0 1,0 -3.1,0 M1200.3,614.7 a1.55,1.1 0 1,0 3.1,0 a1.55,1.1 0 1,0 -3.1,0 M1225.2,617.6 a1.55,1.1 0 1,0 3.1,0 a1.55,1.1 0 1,0 -3.1,0 M1237.4,596.1 a1.55,1.1 0 1,0 3.1,0 a1.55,1.1 0 1,0 -3.1,0 M1171.7,734.8 a1.55,1.1 0 1,0 3.1,0 a1.55,1.1 0 1,0 -3.1,0 M1172.3,782.4 a1.55,1.1 0 1,0 3.1,0 a1.55,1.1 0 1,0 -3.1,0 M1174.5,592.0 a1.55,1.1 0 1,0 3.1,0 a1.55,1.1 0 1,0 -3.1,0 M1243.6,579.4 a1.55,1.1 0 1,0 3.1,0 a1.55,1.1 0 1,0 -3.1,0 M1155.7,563.2 a1.55,1.1 0 1,0 3.1,0 a1.55,1.1 0 1,0 -3.1,0 M1235.6,605.9 a1.55,1.1 0 1,0 3.1,0 a1.55,1.1 0 1,0 -3.1,0 M1168.4,650.8 a1.55,1.1 0 1,0 3.1,0 a1.55,1.1 0 1,0 -3.1,0 M1258.2,571.1 a1.55,1.1 0 1,0 3.1,0 a1.55,1.1 0 1,0 -3.1,0 M1145.7,627.0 a1.55,1.1 0 1,0 3.1,0 a1.55,1.1 0 1,0 -3.1,0 M1106.3,701.8 a1.55,1.1 0 1,0 3.1,0 a1.55,1.1 0 1,0 -3.1,0 M1254.5,698.2 a1.55,1.1 0 1,0 3.1,0 a1.55,1.1 0 1,0 -3.1,0 M1227.0,575.9 a1.55,1.1 0 1,0 3.1,0 a1.55,1.1 0 1,0 -3.1,0 M1203.2,627.1 a1.55,1.1 0 1,0 3.1,0 a1.55,1.1 0 1,0 -3.1,0 M1233.6,630.3 a1.55,1.1 0 1,0 3.1,0 a1.55,1.1 0 1,0 -3.1,0 M1189.4,770.7 a1.55,1.1 0 1,0 3.1,0 a1.55,1.1 0 1,0 -3.1,0 M1206.2,784.5 a1.55,1.1 0 1,0 3.1,0 a1.55,1.1 0 1,0 -3.1,0 M1267.8,782.0 a1.55,1.1 0 1,0 3.1,0 a1.55,1.1 0 1,0 -3.1,0 M1183.6,619.4 a1.55,1.1 0 1,0 3.1,0 a1.55,1.1 0 1,0 -3.1,0 M1158.5,581.7 a1.55,1.1 0 1,0 3.1,0 a1.55,1.1 0 1,0 -3.1,0 M1221.7,638.8 a1.55,1.1 0 1,0 3.1,0 a1.55,1.1 0 1,0 -3.1,0 M1205.2,654.3 a1.55,1.1 0 1,0 3.1,0 a1.55,1.1 0 1,0 -3.1,0 M1182.6,736.3 a1.55,1.1 0 1,0 3.1,0 a1.55,1.1 0 1,0 -3.1,0 M1218.0,545.6 a1.55,1.1 0 1,0 3.1,0 a1.55,1.1 0 1,0 -3.1,0 M1112.5,701.5 a1.55,1.1 0 1,0 3.1,0 a1.55,1.1 0 1,0 -3.1,0 M1197.3,765.2 a1.55,1.1 0 1,0 3.1,0 a1.55,1.1 0 1,0 -3.1,0 M1260.7,542.5 a1.55,1.1 0 1,0 3.1,0 a1.55,1.1 0 1,0 -3.1,0 M1194.7,774.1 a1.55,1.1 0 1,0 3.1,0 a1.55,1.1 0 1,0 -3.1,0 M1228.4,642.9 a1.55,1.1 0 1,0 3.1,0 a1.55,1.1 0 1,0 -3.1,0 M1164.8,629.8 a1.55,1.1 0 1,0 3.1,0 a1.55,1.1 0 1,0 -3.1,0 M1173.1,741.1 a1.55,1.1 0 1,0 3.1,0 a1.55,1.1 0 1,0 -3.1,0 M1141.8,589.7 a1.55,1.1 0 1,0 3.1,0 a1.55,1.1 0 1,0 -3.1,0 M1179.6,639.6 a1.55,1.1 0 1,0 3.1,0 a1.55,1.1 0 1,0 -3.1,0 M1179.6,704.9 a1.55,1.1 0 1,0 3.1,0 a1.55,1.1 0 1,0 -3.1,0 M1177.4,593.3 a1.55,1.1 0 1,0 3.1,0 a1.55,1.1 0 1,0 -3.1,0 M1246.3,597.1 a1.55,1.1 0 1,0 3.1,0 a1.55,1.1 0 1,0 -3.1,0 M1247.2,795.7 a1.55,1.1 0 1,0 3.1,0 a1.55,1.1 0 1,0 -3.1,0 M1248.3,618.7 a1.55,1.1 0 1,0 3.1,0 a1.55,1.1 0 1,0 -3.1,0 M1224.1,549.9 a1.55,1.1 0 1,0 3.1,0 a1.55,1.1 0 1,0 -3.1,0 M1242.8,612.1 a1.55,1.1 0 1,0 3.1,0 a1.55,1.1 0 1,0 -3.1,0 M1197.6,728.0 a1.55,1.1 0 1,0 3.1,0 a1.55,1.1 0 1,0 -3.1,0 M1153.8,655.7 a1.55,1.1 0 1,0 3.1,0 a1.55,1.1 0 1,0 -3.1,0 M1149.8,577.3 a1.55,1.1 0 1,0 3.1,0 a1.55,1.1 0 1,0 -3.1,0 M1226.0,632.5 a1.55,1.1 0 1,0 3.1,0 a1.55,1.1 0 1,0 -3.1,0 M1162.5,787.5 a1.55,1.1 0 1,0 3.1,0 a1.55,1.1 0 1,0 -3.1,0 M1157.3,624.5 a1.55,1.1 0 1,0 3.1,0 a1.55,1.1 0 1,0 -3.1,0 M1190.6,757.1 a1.55,1.1 0 1,0 3.1,0 a1.55,1.1 0 1,0 -3.1,0 M1245.1,557.9 a1.55,1.1 0 1,0 3.1,0 a1.55,1.1 0 1,0 -3.1,0 M1233.0,743.6 a1.55,1.1 0 1,0 3.1,0 a1.55,1.1 0 1,0 -3.1,0 M1120.3,644.3 a1.55,1.1 0 1,0 3.1,0 a1.55,1.1 0 1,0 -3.1,0 M1253.0,810.7 a1.55,1.1 0 1,0 3.1,0 a1.55,1.1 0 1,0 -3.1,0 M1268.2,731.4 a1.55,1.1 0 1,0 3.1,0 a1.55,1.1 0 1,0 -3.1,0 M1201.3,743.5 a1.55,1.1 0 1,0 3.1,0 a1.55,1.1 0 1,0 -3.1,0 M1231.4,723.9 a1.55,1.1 0 1,0 3.1,0 a1.55,1.1 0 1,0 -3.1,0 M1205.2,539.3 a1.55,1.1 0 1,0 3.1,0 a1.55,1.1 0 1,0 -3.1,0 M1190.2,804.8 a1.55,1.1 0 1,0 3.1,0 a1.55,1.1 0 1,0 -3.1,0 M1249.3,733.8 a1.55,1.1 0 1,0 3.1,0 a1.55,1.1 0 1,0 -3.1,0 M1221.7,747.4 a1.55,1.1 0 1,0 3.1,0 a1.55,1.1 0 1,0 -3.1,0 M1172.0,752.6 a1.55,1.1 0 1,0 3.1,0 a1.55,1.1 0 1,0 -3.1,0 M1169.4,720.1 a1.55,1.1 0 1,0 3.1,0 a1.55,1.1 0 1,0 -3.1,0 M1176.9,752.6 a1.55,1.1 0 1,0 3.1,0 a1.55,1.1 0 1,0 -3.1,0 M1222.4,634.8 a1.55,1.1 0 1,0 3.1,0 a1.55,1.1 0 1,0 -3.1,0 M1188.5,704.1 a1.55,1.1 0 1,0 3.1,0 a1.55,1.1 0 1,0 -3.1,0 M1233.7,567.3 a1.55,1.1 0 1,0 3.1,0 a1.55,1.1 0 1,0 -3.1,0 M1129.0,587.2 a1.55,1.1 0 1,0 3.1,0 a1.55,1.1 0 1,0 -3.1,0 M1166.1,574.8 a1.55,1.1 0 1,0 3.1,0 a1.55,1.1 0 1,0 -3.1,0 M1181.5,542.0 a1.55,1.1 0 1,0 3.1,0 a1.55,1.1 0 1,0 -3.1,0 M1103.3,645.8 a1.55,1.1 0 1,0 3.1,0 a1.55,1.1 0 1,0 -3.1,0 M1155.9,561.4 a1.55,1.1 0 1,0 3.1,0 a1.55,1.1 0 1,0 -3.1,0 M1177.1,805.7 a1.55,1.1 0 1,0 3.1,0 a1.55,1.1 0 1,0 -3.1,0 M1206.3,628.1 a1.55,1.1 0 1,0 3.1,0 a1.55,1.1 0 1,0 -3.1,0 M1210.7,795.9 a1.55,1.1 0 1,0 3.1,0 a1.55,1.1 0 1,0 -3.1,0 M1202.3,809.9 a1.55,1.1 0 1,0 3.1,0 a1.55,1.1 0 1,0 -3.1,0 M1146.4,780.7 a1.55,1.1 0 1,0 3.1,0 a1.55,1.1 0 1,0 -3.1,0 M1258.7,633.6 a1.55,1.1 0 1,0 3.1,0 a1.55,1.1 0 1,0 -3.1,0 M1135.0,759.4 a1.55,1.1 0 1,0 3.1,0 a1.55,1.1 0 1,0 -3.1,0 M1202.1,738.6 a1.55,1.1 0 1,0 3.1,0 a1.55,1.1 0 1,0 -3.1,0 M1229.3,728.6 a1.55,1.1 0 1,0 3.1,0 a1.55,1.1 0 1,0 -3.1,0 M1153.6,635.8 a1.55,1.1 0 1,0 3.1,0 a1.55,1.1 0 1,0 -3.1,0 M1209.8,596.7 a1.55,1.1 0 1,0 3.1,0 a1.55,1.1 0 1,0 -3.1,0 M1200.1,770.1 a1.55,1.1 0 1,0 3.1,0 a1.55,1.1 0 1,0 -3.1,0 M1223.9,547.3 a1.55,1.1 0 1,0 3.1,0 a1.55,1.1 0 1,0 -3.1,0 M1202.1,588.7 a1.55,1.1 0 1,0 3.1,0 a1.55,1.1 0 1,0 -3.1,0 M1170.9,549.4 a1.55,1.1 0 1,0 3.1,0 a1.55,1.1 0 1,0 -3.1,0 M1255.1,810.8 a1.55,1.1 0 1,0 3.1,0 a1.55,1.1 0 1,0 -3.1,0 M1143.3,654.6 a1.55,1.1 0 1,0 3.1,0 a1.55,1.1 0 1,0 -3.1,0 M1226.4,749.5 a1.55,1.1 0 1,0 3.1,0 a1.55,1.1 0 1,0 -3.1,0 M1112.6,614.4 a1.55,1.1 0 1,0 3.1,0 a1.55,1.1 0 1,0 -3.1,0 M1268.7,788.6 a1.55,1.1 0 1,0 3.1,0 a1.55,1.1 0 1,0 -3.1,0 M1122.9,618.2 a1.55,1.1 0 1,0 3.1,0 a1.55,1.1 0 1,0 -3.1,0 M1158.3,781.5 a1.55,1.1 0 1,0 3.1,0 a1.55,1.1 0 1,0 -3.1,0 M1130.5,756.5 a1.55,1.1 0 1,0 3.1,0 a1.55,1.1 0 1,0 -3.1,0 M1191.4,552.3 a1.55,1.1 0 1,0 3.1,0 a1.55,1.1 0 1,0 -3.1,0 M1138.2,766.2 a1.55,1.1 0 1,0 3.1,0 a1.55,1.1 0 1,0 -3.1,0 M1256.8,768.2 a1.55,1.1 0 1,0 3.1,0 a1.55,1.1 0 1,0 -3.1,0 M1144.0,575.0 a1.55,1.1 0 1,0 3.1,0 a1.55,1.1 0 1,0 -3.1,0 M1239.2,706.0 a1.55,1.1 0 1,0 3.1,0 a1.55,1.1 0 1,0 -3.1,0 M1186.5,575.6 a1.55,1.1 0 1,0 3.1,0 a1.55,1.1 0 1,0 -3.1,0 M1191.6,647.3 a1.55,1.1 0 1,0 3.1,0 a1.55,1.1 0 1,0 -3.1,0 M1175.2,766.5 a1.55,1.1 0 1,0 3.1,0 a1.55,1.1 0 1,0 -3.1,0 M1265.1,570.9 a1.55,1.1 0 1,0 3.1,0 a1.55,1.1 0 1,0 -3.1,0" fill="none" stroke="#222" stroke-width="1.4"/>
<path d="M1160.4,706.4 a1.25,1.15 0 1,0 2.5,0 a1.25,1.15 0 1,0 -2.5,0 M1208.3,569.5 a1.25,1.15 0 1,0 2.5,0 a1.25,1.15 0 1,0 -2.5,0 M1178.7,741.1 a1.25,1.15 0 1,0 2.5,0 a1.25,1.15 0 1,0 -2.5,0 M1266.5,655.7 a1.25,1.15 0 1,0 2.5,0 a1.25,1.15 0 1,0 -2.5,0 M1163.2,630.0 a1.25,1.15 0 1,0 2.5,0 a1.25,1.15 0 1,0 -2.5,0 M1198.6,797.1 a1.25,1.15 0 1,0 2.5,0 a1.25,1.15 0 1,0 -2.5,0 M1260.0,782.6 a1.25,1.15 0 1,0 2.5,0 a1.25,1.15 0 1,0 -2.5,0 M1214.1,573.3 a1.25,1.15 0 1,0 2.5,0 a1.25,1.15 0 1,0 -2.5,0 M1266.3,797.2 a1.25,1.15 0 1,0 2.5,0 a1.25,1.15 0 1,0 -2.5,0 M1221.7,587.8 a1.25,1.15 0 1,0 2.5,0 a1.25,1.15 0 1,0 -2.5,0 M1146.8,756.2 a1.25,1.15 0 1,0 2.5,0 a1.25,1.15 0 1,0 -2.5,0 M1222.5,623.9 a1.25,1.15 0 1,0 2.5,0 a1.25,1.15 0 1,0 -2.5,0 M1129.6,647.2 a1.25,1.15 0 1,0 2.5,0 a1.25,1.15 0 1,0 -2.5,0 M1249.1,618.8 a1.25,1.15 0 1,0 2.5,0 a1.25,1.15 0 1,0 -2.5,0 M1187.1,718.5 a1.25,1.15 0 1,0 2.5,0 a1.25,1.15 0 1,0 -2.5,0 M1194.1,711.3 a1.25,1.15 0 1,0 2.5,0 a1.25,1.15 0 1,0 -2.5,0 M1184.8,654.2 a1.25,1.15 0 1,0 2.5,0 a1.25,1.15 0 1,0 -2.5,0 M1136.8,614.9 a1.25,1.15 0 1,0 2.5,0 a1.25,1.15 0 1,0 -2.5,0 M1215.5,630.5 a1.25,1.15 0 1,0 2.5,0 a1.25,1.15 0 1,0 -2.5,0 M1232.1,532.1 a1.25,1.15 0 1,0 2.5,0 a1.25,1.15 0 1,0 -2.5,0 M1151.8,624.8 a1.25,1.15 0 1,0 2.5,0 a1.25,1.15 0 1,0 -2.5,0 M1154.5,720.4 a1.25,1.15 0 1,0 2.5,0 a1.25,1.15 0 1,0 -2.5,0 M1188.8,581.6 a1.25,1.15 0 1,0 2.5,0 a1.25,1.15 0 1,0 -2.5,0 M1238.3,717.9 a1.25,1.15 0 1,0 2.5,0 a1.25,1.15 0 1,0 -2.5,0 M1262.5,789.8 a1.25,1.15 0 1,0 2.5,0 a1.25,1.15 0 1,0 -2.5,0 M1259.7,591.1 a1.25,1.15 0 1,0 2.5,0 a1.25,1.15 0 1,0 -2.5,0 M1243.5,724.2 a1.25,1.15 0 1,0 2.5,0 a1.25,1.15 0 1,0 -2.5,0 M1238.8,537.6 a1.25,1.15 0 1,0 2.5,0 a1.25,1.15 0 1,0 -2.5,0 M1218.1,803.0 a1.25,1.15 0 1,0 2.5,0 a1.25,1.15 0 1,0 -2.5,0 M1235.5,802.4 a1.25,1.15 0 1,0 2.5,0 a1.25,1.15 0 1,0 -2.5,0 M1142.8,605.1 a1.25,1.15 0 1,0 2.5,0 a1.25,1.15 0 1,0 -2.5,0 M1157.0,719.4 a1.25,1.15 0 1,0 2.5,0 a1.25,1.15 0 1,0 -2.5,0 M1126.3,636.7 a1.25,1.15 0 1,0 2.5,0 a1.25,1.15 0 1,0 -2.5,0 M1233.9,638.8 a1.25,1.15 0 1,0 2.5,0 a1.25,1.15 0 1,0 -2.5,0 M1170.3,789.7 a1.25,1.15 0 1,0 2.5,0 a1.25,1.15 0 1,0 -2.5,0 M1161.1,795.2 a1.25,1.15 0 1,0 2.5,0 a1.25,1.15 0 1,0 -2.5,0 M1212.5,792.0 a1.25,1.15 0 1,0 2.5,0 a1.25,1.15 0 1,0 -2.5,0 M1213.4,745.6 a1.25,1.15 0 1,0 2.5,0 a1.25,1.15 0 1,0 -2.5,0 M1244.4,560.6 a1.25,1.15 0 1,0 2.5,0 a1.25,1.15 0 1,0 -2.5,0 M1214.5,776.5 a1.25,1.15 0 1,0 2.5,0 a1.25,1.15 0 1,0 -2.5,0 M1221.9,556.2 a1.25,1.15 0 1,0 2.5,0 a1.25,1.15 0 1,0 -2.5,0 M1126.5,599.5 a1.25,1.15 0 1,0 2.5,0 a1.25,1.15 0 1,0 -2.5,0 M1267.8,648.7 a1.25,1.15 0 1,0 2.5,0 a1.25,1.15 0 1,0 -2.5,0 M1123.1,732.6 a1.25,1.15 0 1,0 2.5,0 a1.25,1.15 0 1,0 -2.5,0 M1180.6,718.2 a1.25,1.15 0 1,0 2.5,0 a1.25,1.15 0 1,0 -2.5,0 M1227.8,800.8 a1.25,1.15 0 1,0 2.5,0 a1.25,1.15 0 1,0 -2.5,0 M1142.1,584.2 a1.25,1.15 0 1,0 2.5,0 a1.25,1.15 0 1,0 -2.5,0 M1150.6,594.2 a1.25,1.15 0 1,0 2.5,0 a1.25,1.15 0 1,0 -2.5,0 M1264.4,613.4 a1.25,1.15 0 1,0 2.5,0 a1.25,1.15 0 1,0 -2.5,0 M1168.1,781.8 a1.25,1.15 0 1,0 2.5,0 a1.25,1.15 0 1,0 -2.5,0 M1158.7,621.3 a1.25,1.15 0 1,0 2.5,0 a1.25,1.15 0 1,0 -2.5,0 M1243.2,772.1 a1.25,1.15 0 1,0 2.5,0 a1.25,1.15 0 1,0 -2.5,0 M1180.2,741.7 a1.25,1.15 0 1,0 2.5,0 a1.25,1.15 0 1,0 -2.5,0 M1165.8,745.5 a1.25,1.15 0 1,0 2.5,0 a1.25,1.15 0 1,0 -2.5,0 M1222.3,728.0 a1.25,1.15 0 1,0 2.5,0 a1.25,1.15 0 1,0 -2.5,0 M1140.5,580.5 a1.25,1.15 0 1,0 2.5,0 a1.25,1.15 0 1,0 -2.5,0 M1131.9,700.7 a1.25,1.15 0 1,0 2.5,0 a1.25,1.15 0 1,0 -2.5,0 M1115.7,607.0 a1.25,1.15 0 1,0 2.5,0 a1.25,1.15 0 1,0 -2.5,0 M1256.4,553.3 a1.25,1.15 0 1,0 2.5,0 a1.25,1.15 0 1,0 -2.5,0 M1161.1,757.3 a1.25,1.15 0 1,0 2.5,0 a1.25,1.15 0 1,0 -2.5,0 M1147.1,728.1 a1.25,1.15 0 1,0 2.5,0 a1.25,1.15 0 1,0 -2.5,0 M1238.1,604.2 a1.25,1.15 0 1,0 2.5,0 a1.25,1.15 0 1,0 -2.5,0 M1265.8,727.2 a1.25,1.15 0 1,0 2.5,0 a1.25,1.15 0 1,0 -2.5,0 M1157.2,740.9 a1.25,1.15 0 1,0 2.5,0 a1.25,1.15 0 1,0 -2.5,0 M1195.4,579.0 a1.25,1.15 0 1,0 2.5,0 a1.25,1.15 0 1,0 -2.5,0 M1206.9,578.1 a1.25,1.15 0 1,0 2.5,0 a1.25,1.15 0 1,0 -2.5,0 M1211.2,561.2 a1.25,1.15 0 1,0 2.5,0 a1.25,1.15 0 1,0 -2.5,0 M1119.6,624.1 a1.25,1.15 0 1,0 2.5,0 a1.25,1.15 0 1,0 -2.5,0 M1222.0,751.9 a1.25,1.15 0 1,0 2.5,0 a1.25,1.15 0 1,0 -2.5,0 M1184.4,598.7 a1.25,1.15 0 1,0 2.5,0 a1.25,1.15 0 1,0 -2.5,0 M1128.2,649.8 a1.25,1.15 0 1,0 2.5,0 a1.25,1.15 0 1,0 -2.5,0 M1239.8,750.1 a1.25,1.15 0 1,0 2.5,0 a1.25,1.15 0 1,0 -2.5,0 M1130.5,599.5 a1.25,1.15 0 1,0 2.5,0 a1.25,1.15 0 1,0 -2.5,0 M1192.9,700.1 a1.25,1.15 0 1,0 2.5,0 a1.25,1.15 0 1,0 -2.5,0 M1195.3,813.6 a1.25,1.15 0 1,0 2.5,0 a1.25,1.15 0 1,0 -2.5,0 M1247.4,705.5 a1.25,1.15 0 1,0 2.5,0 a1.25,1.15 0 1,0 -2.5,0 M1238.2,805.4 a1.25,1.15 0 1,0 2.5,0 a1.25,1.15 0 1,0 -2.5,0 M1174.3,647.1 a1.25,1.15 0 1,0 2.5,0 a1.25,1.15 0 1,0 -2.5,0 M1179.0,573.8 a1.25,1.15 0 1,0 2.5,0 a1.25,1.15 0 1,0 -2.5,0 M1224.1,607.1 a1.25,1.15 0 1,0 2.5,0 a1.25,1.15 0 1,0 -2.5,0 M1139.0,604.3 a1.25,1.15 0 1,0 2.5,0 a1.25,1.15 0 1,0 -2.5,0 M1216.1,816.7 a1.25,1.15 0 1,0 2.5,0 a1.25,1.15 0 1,0 -2.5,0 M1237.6,801.0 a1.25,1.15 0 1,0 2.5,0 a1.25,1.15 0 1,0 -2.5,0 M1163.9,624.9 a1.25,1.15 0 1,0 2.5,0 a1.25,1.15 0 1,0 -2.5,0 M1259.9,576.7 a1.25,1.15 0 1,0 2.5,0 a1.25,1.15 0 1,0 -2.5,0 M1225.2,776.4 a1.25,1.15 0 1,0 2.5,0 a1.25,1.15 0 1,0 -2.5,0 M1142.5,575.3 a1.25,1.15 0 1,0 2.5,0 a1.25,1.15 0 1,0 -2.5,0 M1181.3,570.5 a1.25,1.15 0 1,0 2.5,0 a1.25,1.15 0 1,0 -2.5,0 M1208.9,789.3 a1.25,1.15 0 1,0 2.5,0 a1.25,1.15 0 1,0 -2.5,0 M1174.6,794.9 a1.25,1.15 0 1,0 2.5,0 a1.25,1.15 0 1,0 -2.5,0 M1121.7,718.7 a1.25,1.15 0 1,0 2.5,0 a1.25,1.15 0 1,0 -2.5,0 M1266.8,590.5 a1.25,1.15 0 1,0 2.5,0 a1.25,1.15 0 1,0 -2.5,0 M1169.2,759.9 a1.25,1.15 0 1,0 2.5,0 a1.25,1.15 0 1,0 -2.5,0 M1266.7,584.2 a1.25,1.15 0 1,0 2.5,0 a1.25,1.15 0 1,0 -2.5,0 M1204.1,717.8 a1.25,1.15 0 1,0 2.5,0 a1.25,1.15 0 1,0 -2.5,0 M1249.8,628.5 a1.25,1.15 0 1,0 2.5,0 a1.25,1.15 0 1,0 -2.5,0 M1173.9,557.5 a1.25,1.15 0 1,0 2.5,0 a1.25,1.15 0 1,0 -2.5,0 M1180.8,545.6 a1.25,1.15 0 1,0 2.5,0 a1.25,1.15 0 1,0 -2.5,0 M1225.5,651.7 a1.25,1.15 0 1,0 2.5,0 a1.25,1.15 0 1,0 -2.5,0 M1223.9,788.2 a1.25,1.15 0 1,0 2.5,0 a1.25,1.15 0 1,0 -2.5,0 M1203.5,805.3 a1.25,1.15 0 1,0 2.5,0 a1.25,1.15 0 1,0 -2.5,0 M1232.3,646.9 a1.25,1.15 0 1,0 2.5,0 a1.25,1.15 0 1,0 -2.5,0 M1258.4,612.2 a1.25,1.15 0 1,0 2.5,0 a1.25,1.15 0 1,0 -2.5,0 M1223.2,612.9 a1.25,1.15 0 1,0 2.5,0 a1.25,1.15 0 1,0 -2.5,0 M1208.4,536.2 a1.25,1.15 0 1,0 2.5,0 a1.25,1.15 0 1,0 -2.5,0 M1230.4,735.5 a1.25,1.15 0 1,0 2.5,0 a1.25,1.15 0 1,0 -2.5,0 M1177.0,791.8 a1.25,1.15 0 1,0 2.5,0 a1.25,1.15 0 1,0 -2.5,0 M1147.4,597.3 a1.25,1.15 0 1,0 2.5,0 a1.25,1.15 0 1,0 -2.5,0 M1269.0,761.2 a1.25,1.15 0 1,0 2.5,0 a1.25,1.15 0 1,0 -2.5,0 M1171.0,713.5 a1.25,1.15 0 1,0 2.5,0 a1.25,1.15 0 1,0 -2.5,0 M1209.0,794.9 a1.25,1.15 0 1,0 2.5,0 a1.25,1.15 0 1,0 -2.5,0 M1177.8,725.0 a1.25,1.15 0 1,0 2.5,0 a1.25,1.15 0 1,0 -2.5,0 M1187.5,648.4 a1.25,1.15 0 1,0 2.5,0 a1.25,1.15 0 1,0 -2.5,0 M1241.9,805.3 a1.25,1.15 0 1,0 2.5,0 a1.25,1.15 0 1,0 -2.5,0 M1099.9,697.5 a1.25,1.15 0 1,0 2.5,0 a1.25,1.15 0 1,0 -2.5,0 M1181.3,608.5 a1.25,1.15 0 1,0 2.5,0 a1.25,1.15 0 1,0 -2.5,0" fill="#222"/>
<line x1="1273.9" y1="524.5" x2="1273.9" y2="826" stroke="#000" stroke-width="2.6"/>
<g clip-path="url(#c3)"><use href="#ancH" transform="matrix(0,1,1.21,0,1101.2,676.7)"/></g>
<circle cx="1246.7" cy="675" r="151" fill="none" stroke="#000" stroke-width="3.2"/>
<text x="1300.9" y="636.8" font-size="33.6" fill="#111" style="white-space:pre" textLength="71.3" lengthAdjust="spacingAndGlyphs" stroke="#fff" stroke-width="0.45">3x B</text>
<path d="M67.3,1067.2 a1.55,1.1 0 1,0 3.1,0 a1.55,1.1 0 1,0 -3.1,0 M134.1,1316.2 a1.55,1.1 0 1,0 3.1,0 a1.55,1.1 0 1,0 -3.1,0 M90.6,1116.9 a1.55,1.1 0 1,0 3.1,0 a1.55,1.1 0 1,0 -3.1,0 M134.1,1082.9 a1.55,1.1 0 1,0 3.1,0 a1.55,1.1 0 1,0 -3.1,0 M73.1,1069.8 a1.55,1.1 0 1,0 3.1,0 a1.55,1.1 0 1,0 -3.1,0 M136.1,1021.6 a1.55,1.1 0 1,0 3.1,0 a1.55,1.1 0 1,0 -3.1,0 M34.2,1172.4 a1.55,1.1 0 1,0 3.1,0 a1.55,1.1 0 1,0 -3.1,0 M106.4,1116.7 a1.55,1.1 0 1,0 3.1,0 a1.55,1.1 0 1,0 -3.1,0 M151.3,1045.2 a1.55,1.1 0 1,0 3.1,0 a1.55,1.1 0 1,0 -3.1,0 M41.1,1139.1 a1.55,1.1 0 1,0 3.1,0 a1.55,1.1 0 1,0 -3.1,0 M161.4,1320.3 a1.55,1.1 0 1,0 3.1,0 a1.55,1.1 0 1,0 -3.1,0 M50.4,1082.1 a1.55,1.1 0 1,0 3.1,0 a1.55,1.1 0 1,0 -3.1,0 M131.3,1152.0 a1.55,1.1 0 1,0 3.1,0 a1.55,1.1 0 1,0 -3.1,0 M71.9,1088.8 a1.55,1.1 0 1,0 3.1,0 a1.55,1.1 0 1,0 -3.1,0 M113.7,1065.1 a1.55,1.1 0 1,0 3.1,0 a1.55,1.1 0 1,0 -3.1,0 M80.8,1102.7 a1.55,1.1 0 1,0 3.1,0 a1.55,1.1 0 1,0 -3.1,0 M8.0,1175.9 a1.55,1.1 0 1,0 3.1,0 a1.55,1.1 0 1,0 -3.1,0 M148.8,1343.1 a1.55,1.1 0 1,0 3.1,0 a1.55,1.1 0 1,0 -3.1,0 M110.0,1283.9 a1.55,1.1 0 1,0 3.1,0 a1.55,1.1 0 1,0 -3.1,0 M154.3,1394.2 a1.55,1.1 0 1,0 3.1,0 a1.55,1.1 0 1,0 -3.1,0 M125.2,1382.4 a1.55,1.1 0 1,0 3.1,0 a1.55,1.1 0 1,0 -3.1,0 M140.3,1341.6 a1.55,1.1 0 1,0 3.1,0 a1.55,1.1 0 1,0 -3.1,0 M53.3,1099.3 a1.55,1.1 0 1,0 3.1,0 a1.55,1.1 0 1,0 -3.1,0 M161.5,1042.8 a1.55,1.1 0 1,0 3.1,0 a1.55,1.1 0 1,0 -3.1,0 M71.7,1329.7 a1.55,1.1 0 1,0 3.1,0 a1.55,1.1 0 1,0 -3.1,0 M146.3,1076.0 a1.55,1.1 0 1,0 3.1,0 a1.55,1.1 0 1,0 -3.1,0 M151.2,1293.9 a1.55,1.1 0 1,0 3.1,0 a1.55,1.1 0 1,0 -3.1,0 M82.3,1296.0 a1.55,1.1 0 1,0 3.1,0 a1.55,1.1 0 1,0 -3.1,0 M113.7,1252.7 a1.55,1.1 0 1,0 3.1,0 a1.55,1.1 0 1,0 -3.1,0 M131.9,1254.1 a1.55,1.1 0 1,0 3.1,0 a1.55,1.1 0 1,0 -3.1,0 M61.7,1274.1 a1.55,1.1 0 1,0 3.1,0 a1.55,1.1 0 1,0 -3.1,0 M63.4,1239.0 a1.55,1.1 0 1,0 3.1,0 a1.55,1.1 0 1,0 -3.1,0 M104.4,1042.1 a1.55,1.1 0 1,0 3.1,0 a1.55,1.1 0 1,0 -3.1,0 M55.9,1126.6 a1.55,1.1 0 1,0 3.1,0 a1.55,1.1 0 1,0 -3.1,0 M118.1,1130.3 a1.55,1.1 0 1,0 3.1,0 a1.55,1.1 0 1,0 -3.1,0 M150.4,1167.3 a1.55,1.1 0 1,0 3.1,0 a1.55,1.1 0 1,0 -3.1,0 M136.9,1119.8 a1.55,1.1 0 1,0 3.1,0 a1.55,1.1 0 1,0 -3.1,0 M104.8,1067.7 a1.55,1.1 0 1,0 3.1,0 a1.55,1.1 0 1,0 -3.1,0 M153.8,1250.4 a1.55,1.1 0 1,0 3.1,0 a1.55,1.1 0 1,0 -3.1,0 M149.3,1321.4 a1.55,1.1 0 1,0 3.1,0 a1.55,1.1 0 1,0 -3.1,0 M144.2,1138.0 a1.55,1.1 0 1,0 3.1,0 a1.55,1.1 0 1,0 -3.1,0 M160.5,1066.2 a1.55,1.1 0 1,0 3.1,0 a1.55,1.1 0 1,0 -3.1,0 M142.1,1339.9 a1.55,1.1 0 1,0 3.1,0 a1.55,1.1 0 1,0 -3.1,0 M154.0,1386.3 a1.55,1.1 0 1,0 3.1,0 a1.55,1.1 0 1,0 -3.1,0 M92.0,1247.9 a1.55,1.1 0 1,0 3.1,0 a1.55,1.1 0 1,0 -3.1,0 M104.9,1257.9 a1.55,1.1 0 1,0 3.1,0 a1.55,1.1 0 1,0 -3.1,0 M80.9,1063.1 a1.55,1.1 0 1,0 3.1,0 a1.55,1.1 0 1,0 -3.1,0 M118.3,1182.5 a1.55,1.1 0 1,0 3.1,0 a1.55,1.1 0 1,0 -3.1,0 M55.0,1257.0 a1.55,1.1 0 1,0 3.1,0 a1.55,1.1 0 1,0 -3.1,0 M112.4,1367.3 a1.55,1.1 0 1,0 3.1,0 a1.55,1.1 0 1,0 -3.1,0 M20.8,1142.9 a1.55,1.1 0 1,0 3.1,0 a1.55,1.1 0 1,0 -3.1,0 M111.0,1374.1 a1.55,1.1 0 1,0 3.1,0 a1.55,1.1 0 1,0 -3.1,0 M41.3,1238.1 a1.55,1.1 0 1,0 3.1,0 a1.55,1.1 0 1,0 -3.1,0 M105.1,1144.4 a1.55,1.1 0 1,0 3.1,0 a1.55,1.1 0 1,0 -3.1,0 M118.9,1389.3 a1.55,1.1 0 1,0 3.1,0 a1.55,1.1 0 1,0 -3.1,0 M122.7,1386.9 a1.55,1.1 0 1,0 3.1,0 a1.55,1.1 0 1,0 -3.1,0 M120.7,1164.3 a1.55,1.1 0 1,0 3.1,0 a1.55,1.1 0 1,0 -3.1,0 M64.0,1193.2 a1.55,1.1 0 1,0 3.1,0 a1.55,1.1 0 1,0 -3.1,0 M75.7,1059.6 a1.55,1.1 0 1,0 3.1,0 a1.55,1.1 0 1,0 -3.1,0 M131.3,1302.8 a1.55,1.1 0 1,0 3.1,0 a1.55,1.1 0 1,0 -3.1,0 M94.1,1369.0 a1.55,1.1 0 1,0 3.1,0 a1.55,1.1 0 1,0 -3.1,0 M100.9,1299.7 a1.55,1.1 0 1,0 3.1,0 a1.55,1.1 0 1,0 -3.1,0 M74.1,1330.5 a1.55,1.1 0 1,0 3.1,0 a1.55,1.1 0 1,0 -3.1,0 M49.1,1181.5 a1.55,1.1 0 1,0 3.1,0 a1.55,1.1 0 1,0 -3.1,0 M106.7,1073.4 a1.55,1.1 0 1,0 3.1,0 a1.55,1.1 0 1,0 -3.1,0 M160.2,1386.0 a1.55,1.1 0 1,0 3.1,0 a1.55,1.1 0 1,0 -3.1,0 M80.4,1357.3 a1.55,1.1 0 1,0 3.1,0 a1.55,1.1 0 1,0 -3.1,0 M160.4,1366.3 a1.55,1.1 0 1,0 3.1,0 a1.55,1.1 0 1,0 -3.1,0 M13.8,1180.8 a1.55,1.1 0 1,0 3.1,0 a1.55,1.1 0 1,0 -3.1,0 M159.7,1337.9 a1.55,1.1 0 1,0 3.1,0 a1.55,1.1 0 1,0 -3.1,0 M115.8,1030.3 a1.55,1.1 0 1,0 3.1,0 a1.55,1.1 0 1,0 -3.1,0 M127.8,1136.3 a1.55,1.1 0 1,0 3.1,0 a1.55,1.1 0 1,0 -3.1,0 M47.7,1243.6 a1.55,1.1 0 1,0 3.1,0 a1.55,1.1 0 1,0 -3.1,0 M92.0,1177.4 a1.55,1.1 0 1,0 3.1,0 a1.55,1.1 0 1,0 -3.1,0 M97.8,1236.6 a1.55,1.1 0 1,0 3.1,0 a1.55,1.1 0 1,0 -3.1,0 M159.6,1188.3 a1.55,1.1 0 1,0 3.1,0 a1.55,1.1 0 1,0 -3.1,0 M52.1,1133.0 a1.55,1.1 0 1,0 3.1,0 a1.55,1.1 0 1,0 -3.1,0 M54.1,1089.3 a1.55,1.1 0 1,0 3.1,0 a1.55,1.1 0 1,0 -3.1,0 M93.7,1094.9 a1.55,1.1 0 1,0 3.1,0 a1.55,1.1 0 1,0 -3.1,0 M161.6,1164.5 a1.55,1.1 0 1,0 3.1,0 a1.55,1.1 0 1,0 -3.1,0 M74.8,1302.7 a1.55,1.1 0 1,0 3.1,0 a1.55,1.1 0 1,0 -3.1,0 M162.9,1144.0 a1.55,1.1 0 1,0 3.1,0 a1.55,1.1 0 1,0 -3.1,0 M73.4,1302.2 a1.55,1.1 0 1,0 3.1,0 a1.55,1.1 0 1,0 -3.1,0 M16.2,1162.1 a1.55,1.1 0 1,0 3.1,0 a1.55,1.1 0 1,0 -3.1,0 M127.1,1364.5 a1.55,1.1 0 1,0 3.1,0 a1.55,1.1 0 1,0 -3.1,0 M112.5,1366.8 a1.55,1.1 0 1,0 3.1,0 a1.55,1.1 0 1,0 -3.1,0 M139.1,1294.0 a1.55,1.1 0 1,0 3.1,0 a1.55,1.1 0 1,0 -3.1,0 M104.6,1381.1 a1.55,1.1 0 1,0 3.1,0 a1.55,1.1 0 1,0 -3.1,0 M81.0,1361.8 a1.55,1.1 0 1,0 3.1,0 a1.55,1.1 0 1,0 -3.1,0 M155.3,1306.6 a1.55,1.1 0 1,0 3.1,0 a1.55,1.1 0 1,0 -3.1,0 M43.9,1257.6 a1.55,1.1 0 1,0 3.1,0 a1.55,1.1 0 1,0 -3.1,0 M108.8,1075.8 a1.55,1.1 0 1,0 3.1,0 a1.55,1.1 0 1,0 -3.1,0 M159.7,1358.9 a1.55,1.1 0 1,0 3.1,0 a1.55,1.1 0 1,0 -3.1,0 M140.4,1238.3 a1.55,1.1 0 1,0 3.1,0 a1.55,1.1 0 1,0 -3.1,0 M12.4,1254.5 a1.55,1.1 0 1,0 3.1,0 a1.55,1.1 0 1,0 -3.1,0 M133.3,1093.7 a1.55,1.1 0 1,0 3.1,0 a1.55,1.1 0 1,0 -3.1,0 M57.8,1263.1 a1.55,1.1 0 1,0 3.1,0 a1.55,1.1 0 1,0 -3.1,0 M146.8,1160.9 a1.55,1.1 0 1,0 3.1,0 a1.55,1.1 0 1,0 -3.1,0 M153.5,1047.9 a1.55,1.1 0 1,0 3.1,0 a1.55,1.1 0 1,0 -3.1,0 M88.9,1352.9 a1.55,1.1 0 1,0 3.1,0 a1.55,1.1 0 1,0 -3.1,0 M109.4,1254.1 a1.55,1.1 0 1,0 3.1,0 a1.55,1.1 0 1,0 -3.1,0 M15.3,1192.0 a1.55,1.1 0 1,0 3.1,0 a1.55,1.1 0 1,0 -3.1,0 M100.8,1070.4 a1.55,1.1 0 1,0 3.1,0 a1.55,1.1 0 1,0 -3.1,0 M36.8,1301.4 a1.55,1.1 0 1,0 3.1,0 a1.55,1.1 0 1,0 -3.1,0 M89.4,1056.2 a1.55,1.1 0 1,0 3.1,0 a1.55,1.1 0 1,0 -3.1,0 M137.4,1187.3 a1.55,1.1 0 1,0 3.1,0 a1.55,1.1 0 1,0 -3.1,0 M101.3,1253.3 a1.55,1.1 0 1,0 3.1,0 a1.55,1.1 0 1,0 -3.1,0 M85.9,1075.8 a1.55,1.1 0 1,0 3.1,0 a1.55,1.1 0 1,0 -3.1,0 M67.8,1072.5 a1.55,1.1 0 1,0 3.1,0 a1.55,1.1 0 1,0 -3.1,0 M112.6,1126.9 a1.55,1.1 0 1,0 3.1,0 a1.55,1.1 0 1,0 -3.1,0 M74.0,1287.8 a1.55,1.1 0 1,0 3.1,0 a1.55,1.1 0 1,0 -3.1,0 M122.5,1175.0 a1.55,1.1 0 1,0 3.1,0 a1.55,1.1 0 1,0 -3.1,0 M154.5,1015.7 a1.55,1.1 0 1,0 3.1,0 a1.55,1.1 0 1,0 -3.1,0 M155.1,1073.8 a1.55,1.1 0 1,0 3.1,0 a1.55,1.1 0 1,0 -3.1,0 M58.3,1108.4 a1.55,1.1 0 1,0 3.1,0 a1.55,1.1 0 1,0 -3.1,0 M11.8,1253.1 a1.55,1.1 0 1,0 3.1,0 a1.55,1.1 0 1,0 -3.1,0" fill="none" stroke="#222" stroke-width="1.4"/>
<path d="M155.4,1342.2 a1.25,1.15 0 1,0 2.5,0 a1.25,1.15 0 1,0 -2.5,0 M105.8,1302.6 a1.25,1.15 0 1,0 2.5,0 a1.25,1.15 0 1,0 -2.5,0 M147.5,1039.4 a1.25,1.15 0 1,0 2.5,0 a1.25,1.15 0 1,0 -2.5,0 M96.7,1364.0 a1.25,1.15 0 1,0 2.5,0 a1.25,1.15 0 1,0 -2.5,0 M86.2,1172.9 a1.25,1.15 0 1,0 2.5,0 a1.25,1.15 0 1,0 -2.5,0 M105.7,1118.4 a1.25,1.15 0 1,0 2.5,0 a1.25,1.15 0 1,0 -2.5,0 M80.1,1143.9 a1.25,1.15 0 1,0 2.5,0 a1.25,1.15 0 1,0 -2.5,0 M125.6,1134.8 a1.25,1.15 0 1,0 2.5,0 a1.25,1.15 0 1,0 -2.5,0 M40.0,1316.2 a1.25,1.15 0 1,0 2.5,0 a1.25,1.15 0 1,0 -2.5,0 M117.4,1369.5 a1.25,1.15 0 1,0 2.5,0 a1.25,1.15 0 1,0 -2.5,0 M158.0,1257.2 a1.25,1.15 0 1,0 2.5,0 a1.25,1.15 0 1,0 -2.5,0 M24.8,1159.7 a1.25,1.15 0 1,0 2.5,0 a1.25,1.15 0 1,0 -2.5,0 M83.3,1105.6 a1.25,1.15 0 1,0 2.5,0 a1.25,1.15 0 1,0 -2.5,0 M130.0,1171.0 a1.25,1.15 0 1,0 2.5,0 a1.25,1.15 0 1,0 -2.5,0 M151.0,1270.8 a1.25,1.15 0 1,0 2.5,0 a1.25,1.15 0 1,0 -2.5,0 M146.5,1371.1 a1.25,1.15 0 1,0 2.5,0 a1.25,1.15 0 1,0 -2.5,0 M57.8,1272.0 a1.25,1.15 0 1,0 2.5,0 a1.25,1.15 0 1,0 -2.5,0 M108.3,1336.4 a1.25,1.15 0 1,0 2.5,0 a1.25,1.15 0 1,0 -2.5,0 M162.6,1396.4 a1.25,1.15 0 1,0 2.5,0 a1.25,1.15 0 1,0 -2.5,0 M29.9,1263.2 a1.25,1.15 0 1,0 2.5,0 a1.25,1.15 0 1,0 -2.5,0 M131.5,1362.2 a1.25,1.15 0 1,0 2.5,0 a1.25,1.15 0 1,0 -2.5,0 M147.3,1086.3 a1.25,1.15 0 1,0 2.5,0 a1.25,1.15 0 1,0 -2.5,0 M83.0,1356.8 a1.25,1.15 0 1,0 2.5,0 a1.25,1.15 0 1,0 -2.5,0 M25.2,1151.9 a1.25,1.15 0 1,0 2.5,0 a1.25,1.15 0 1,0 -2.5,0 M92.0,1159.5 a1.25,1.15 0 1,0 2.5,0 a1.25,1.15 0 1,0 -2.5,0 M104.8,1365.2 a1.25,1.15 0 1,0 2.5,0 a1.25,1.15 0 1,0 -2.5,0 M73.9,1354.0 a1.25,1.15 0 1,0 2.5,0 a1.25,1.15 0 1,0 -2.5,0 M34.6,1127.3 a1.25,1.15 0 1,0 2.5,0 a1.25,1.15 0 1,0 -2.5,0 M83.9,1142.1 a1.25,1.15 0 1,0 2.5,0 a1.25,1.15 0 1,0 -2.5,0 M142.2,1149.6 a1.25,1.15 0 1,0 2.5,0 a1.25,1.15 0 1,0 -2.5,0 M153.0,1194.5 a1.25,1.15 0 1,0 2.5,0 a1.25,1.15 0 1,0 -2.5,0 M135.8,1076.5 a1.25,1.15 0 1,0 2.5,0 a1.25,1.15 0 1,0 -2.5,0 M156.8,1077.3 a1.25,1.15 0 1,0 2.5,0 a1.25,1.15 0 1,0 -2.5,0 M139.2,1330.9 a1.25,1.15 0 1,0 2.5,0 a1.25,1.15 0 1,0 -2.5,0 M159.6,1068.7 a1.25,1.15 0 1,0 2.5,0 a1.25,1.15 0 1,0 -2.5,0 M84.0,1238.1 a1.25,1.15 0 1,0 2.5,0 a1.25,1.15 0 1,0 -2.5,0 M21.5,1269.8 a1.25,1.15 0 1,0 2.5,0 a1.25,1.15 0 1,0 -2.5,0 M125.3,1256.1 a1.25,1.15 0 1,0 2.5,0 a1.25,1.15 0 1,0 -2.5,0 M69.3,1248.4 a1.25,1.15 0 1,0 2.5,0 a1.25,1.15 0 1,0 -2.5,0 M56.2,1259.7 a1.25,1.15 0 1,0 2.5,0 a1.25,1.15 0 1,0 -2.5,0 M91.4,1286.9 a1.25,1.15 0 1,0 2.5,0 a1.25,1.15 0 1,0 -2.5,0 M41.6,1126.1 a1.25,1.15 0 1,0 2.5,0 a1.25,1.15 0 1,0 -2.5,0 M160.6,1111.0 a1.25,1.15 0 1,0 2.5,0 a1.25,1.15 0 1,0 -2.5,0 M149.2,1290.4 a1.25,1.15 0 1,0 2.5,0 a1.25,1.15 0 1,0 -2.5,0 M147.3,1297.5 a1.25,1.15 0 1,0 2.5,0 a1.25,1.15 0 1,0 -2.5,0 M116.8,1299.3 a1.25,1.15 0 1,0 2.5,0 a1.25,1.15 0 1,0 -2.5,0 M85.2,1066.9 a1.25,1.15 0 1,0 2.5,0 a1.25,1.15 0 1,0 -2.5,0 M44.5,1163.7 a1.25,1.15 0 1,0 2.5,0 a1.25,1.15 0 1,0 -2.5,0 M120.9,1079.5 a1.25,1.15 0 1,0 2.5,0 a1.25,1.15 0 1,0 -2.5,0 M142.2,1344.2 a1.25,1.15 0 1,0 2.5,0 a1.25,1.15 0 1,0 -2.5,0 M19.9,1256.7 a1.25,1.15 0 1,0 2.5,0 a1.25,1.15 0 1,0 -2.5,0 M52.6,1267.9 a1.25,1.15 0 1,0 2.5,0 a1.25,1.15 0 1,0 -2.5,0 M106.6,1108.3 a1.25,1.15 0 1,0 2.5,0 a1.25,1.15 0 1,0 -2.5,0 M111.5,1129.4 a1.25,1.15 0 1,0 2.5,0 a1.25,1.15 0 1,0 -2.5,0 M105.4,1142.4 a1.25,1.15 0 1,0 2.5,0 a1.25,1.15 0 1,0 -2.5,0 M149.5,1368.4 a1.25,1.15 0 1,0 2.5,0 a1.25,1.15 0 1,0 -2.5,0 M110.9,1289.1 a1.25,1.15 0 1,0 2.5,0 a1.25,1.15 0 1,0 -2.5,0 M131.3,1374.7 a1.25,1.15 0 1,0 2.5,0 a1.25,1.15 0 1,0 -2.5,0 M149.2,1309.3 a1.25,1.15 0 1,0 2.5,0 a1.25,1.15 0 1,0 -2.5,0 M51.5,1162.5 a1.25,1.15 0 1,0 2.5,0 a1.25,1.15 0 1,0 -2.5,0 M163.2,1311.6 a1.25,1.15 0 1,0 2.5,0 a1.25,1.15 0 1,0 -2.5,0 M51.6,1285.8 a1.25,1.15 0 1,0 2.5,0 a1.25,1.15 0 1,0 -2.5,0 M156.1,1116.6 a1.25,1.15 0 1,0 2.5,0 a1.25,1.15 0 1,0 -2.5,0 M69.5,1260.0 a1.25,1.15 0 1,0 2.5,0 a1.25,1.15 0 1,0 -2.5,0 M45.8,1121.2 a1.25,1.15 0 1,0 2.5,0 a1.25,1.15 0 1,0 -2.5,0 M142.1,1077.1 a1.25,1.15 0 1,0 2.5,0 a1.25,1.15 0 1,0 -2.5,0 M102.4,1152.6 a1.25,1.15 0 1,0 2.5,0 a1.25,1.15 0 1,0 -2.5,0 M160.1,1392.2 a1.25,1.15 0 1,0 2.5,0 a1.25,1.15 0 1,0 -2.5,0 M163.8,1027.5 a1.25,1.15 0 1,0 2.5,0 a1.25,1.15 0 1,0 -2.5,0 M118.5,1276.6 a1.25,1.15 0 1,0 2.5,0 a1.25,1.15 0 1,0 -2.5,0 M62.0,1307.4 a1.25,1.15 0 1,0 2.5,0 a1.25,1.15 0 1,0 -2.5,0 M32.1,1254.9 a1.25,1.15 0 1,0 2.5,0 a1.25,1.15 0 1,0 -2.5,0 M92.1,1153.3 a1.25,1.15 0 1,0 2.5,0 a1.25,1.15 0 1,0 -2.5,0 M25.9,1294.1 a1.25,1.15 0 1,0 2.5,0 a1.25,1.15 0 1,0 -2.5,0 M146.6,1036.9 a1.25,1.15 0 1,0 2.5,0 a1.25,1.15 0 1,0 -2.5,0 M131.8,1250.7 a1.25,1.15 0 1,0 2.5,0 a1.25,1.15 0 1,0 -2.5,0 M80.3,1119.3 a1.25,1.15 0 1,0 2.5,0 a1.25,1.15 0 1,0 -2.5,0 M89.6,1352.2 a1.25,1.15 0 1,0 2.5,0 a1.25,1.15 0 1,0 -2.5,0 M153.8,1380.5 a1.25,1.15 0 1,0 2.5,0 a1.25,1.15 0 1,0 -2.5,0 M108.0,1276.4 a1.25,1.15 0 1,0 2.5,0 a1.25,1.15 0 1,0 -2.5,0 M108.1,1032.7 a1.25,1.15 0 1,0 2.5,0 a1.25,1.15 0 1,0 -2.5,0 M61.6,1313.6 a1.25,1.15 0 1,0 2.5,0 a1.25,1.15 0 1,0 -2.5,0 M90.8,1105.0 a1.25,1.15 0 1,0 2.5,0 a1.25,1.15 0 1,0 -2.5,0 M160.4,1283.0 a1.25,1.15 0 1,0 2.5,0 a1.25,1.15 0 1,0 -2.5,0 M50.5,1154.3 a1.25,1.15 0 1,0 2.5,0 a1.25,1.15 0 1,0 -2.5,0 M133.9,1138.0 a1.25,1.15 0 1,0 2.5,0 a1.25,1.15 0 1,0 -2.5,0 M73.9,1304.8 a1.25,1.15 0 1,0 2.5,0 a1.25,1.15 0 1,0 -2.5,0 M62.3,1313.8 a1.25,1.15 0 1,0 2.5,0 a1.25,1.15 0 1,0 -2.5,0 M23.1,1190.3 a1.25,1.15 0 1,0 2.5,0 a1.25,1.15 0 1,0 -2.5,0 M153.1,1046.0 a1.25,1.15 0 1,0 2.5,0 a1.25,1.15 0 1,0 -2.5,0 M120.7,1362.4 a1.25,1.15 0 1,0 2.5,0 a1.25,1.15 0 1,0 -2.5,0 M147.2,1260.8 a1.25,1.15 0 1,0 2.5,0 a1.25,1.15 0 1,0 -2.5,0 M71.9,1174.5 a1.25,1.15 0 1,0 2.5,0 a1.25,1.15 0 1,0 -2.5,0 M128.3,1195.6 a1.25,1.15 0 1,0 2.5,0 a1.25,1.15 0 1,0 -2.5,0 M61.7,1112.2 a1.25,1.15 0 1,0 2.5,0 a1.25,1.15 0 1,0 -2.5,0 M95.4,1273.6 a1.25,1.15 0 1,0 2.5,0 a1.25,1.15 0 1,0 -2.5,0 M129.9,1327.0 a1.25,1.15 0 1,0 2.5,0 a1.25,1.15 0 1,0 -2.5,0 M86.2,1312.3 a1.25,1.15 0 1,0 2.5,0 a1.25,1.15 0 1,0 -2.5,0 M150.8,1306.9 a1.25,1.15 0 1,0 2.5,0 a1.25,1.15 0 1,0 -2.5,0 M129.6,1067.2 a1.25,1.15 0 1,0 2.5,0 a1.25,1.15 0 1,0 -2.5,0 M75.1,1298.4 a1.25,1.15 0 1,0 2.5,0 a1.25,1.15 0 1,0 -2.5,0 M81.9,1146.4 a1.25,1.15 0 1,0 2.5,0 a1.25,1.15 0 1,0 -2.5,0 M97.6,1292.8 a1.25,1.15 0 1,0 2.5,0 a1.25,1.15 0 1,0 -2.5,0 M144.6,1141.8 a1.25,1.15 0 1,0 2.5,0 a1.25,1.15 0 1,0 -2.5,0 M142.7,1264.9 a1.25,1.15 0 1,0 2.5,0 a1.25,1.15 0 1,0 -2.5,0 M141.8,1300.0 a1.25,1.15 0 1,0 2.5,0 a1.25,1.15 0 1,0 -2.5,0 M118.5,1178.6 a1.25,1.15 0 1,0 2.5,0 a1.25,1.15 0 1,0 -2.5,0 M30.3,1189.9 a1.25,1.15 0 1,0 2.5,0 a1.25,1.15 0 1,0 -2.5,0 M95.6,1104.8 a1.25,1.15 0 1,0 2.5,0 a1.25,1.15 0 1,0 -2.5,0 M147.7,1120.8 a1.25,1.15 0 1,0 2.5,0 a1.25,1.15 0 1,0 -2.5,0 M136.2,1068.3 a1.25,1.15 0 1,0 2.5,0 a1.25,1.15 0 1,0 -2.5,0 M156.7,1396.5 a1.25,1.15 0 1,0 2.5,0 a1.25,1.15 0 1,0 -2.5,0 M89.7,1117.7 a1.25,1.15 0 1,0 2.5,0 a1.25,1.15 0 1,0 -2.5,0 M129.2,1080.5 a1.25,1.15 0 1,0 2.5,0 a1.25,1.15 0 1,0 -2.5,0 M98.3,1114.1 a1.25,1.15 0 1,0 2.5,0 a1.25,1.15 0 1,0 -2.5,0 M148.2,1144.2 a1.25,1.15 0 1,0 2.5,0 a1.25,1.15 0 1,0 -2.5,0 M161.4,1071.3 a1.25,1.15 0 1,0 2.5,0 a1.25,1.15 0 1,0 -2.5,0 M153.1,1285.7 a1.25,1.15 0 1,0 2.5,0 a1.25,1.15 0 1,0 -2.5,0 M110.8,1309.4 a1.25,1.15 0 1,0 2.5,0 a1.25,1.15 0 1,0 -2.5,0 M16.4,1156.9 a1.25,1.15 0 1,0 2.5,0 a1.25,1.15 0 1,0 -2.5,0 M31.8,1134.5 a1.25,1.15 0 1,0 2.5,0 a1.25,1.15 0 1,0 -2.5,0 M149.2,1082.0 a1.25,1.15 0 1,0 2.5,0 a1.25,1.15 0 1,0 -2.5,0 M44.7,1320.6 a1.25,1.15 0 1,0 2.5,0 a1.25,1.15 0 1,0 -2.5,0 M59.8,1153.7 a1.25,1.15 0 1,0 2.5,0 a1.25,1.15 0 1,0 -2.5,0 M128.8,1297.1 a1.25,1.15 0 1,0 2.5,0 a1.25,1.15 0 1,0 -2.5,0 M75.7,1151.8 a1.25,1.15 0 1,0 2.5,0 a1.25,1.15 0 1,0 -2.5,0 M26.7,1258.3 a1.25,1.15 0 1,0 2.5,0 a1.25,1.15 0 1,0 -2.5,0 M129.7,1029.6 a1.25,1.15 0 1,0 2.5,0 a1.25,1.15 0 1,0 -2.5,0 M138.8,1019.8 a1.25,1.15 0 1,0 2.5,0 a1.25,1.15 0 1,0 -2.5,0 M48.5,1307.7 a1.25,1.15 0 1,0 2.5,0 a1.25,1.15 0 1,0 -2.5,0 M69.6,1332.1 a1.25,1.15 0 1,0 2.5,0 a1.25,1.15 0 1,0 -2.5,0 M137.7,1362.2 a1.25,1.15 0 1,0 2.5,0 a1.25,1.15 0 1,0 -2.5,0 M45.1,1303.6 a1.25,1.15 0 1,0 2.5,0 a1.25,1.15 0 1,0 -2.5,0 M97.0,1044.5 a1.25,1.15 0 1,0 2.5,0 a1.25,1.15 0 1,0 -2.5,0 M22.7,1162.9 a1.25,1.15 0 1,0 2.5,0 a1.25,1.15 0 1,0 -2.5,0" fill="#222"/>
<line x1="168.6" y1="1004.5" x2="168.6" y2="1411.5" stroke="#000" stroke-width="2.5"/>
<g clip-path="url(#c4)"><use href="#ancH" transform="matrix(0,1,1.2,0,-1.2,1216.2)"/></g>
<defs><g id="hookg"><g fill="none" stroke="#111" stroke-width="2" stroke-linejoin="round" stroke-linecap="round"><rect x="190.5" y="1090.6" width="43" height="210.9" rx="1.5" fill="#fff"/><path d="M233.5,1146.9 C250,1144 262,1141.5 274.5,1139.2 C290,1135 305,1128 312.7,1122 C319,1117.5 324,1113.5 325.5,1106 C326.5,1098 326,1080 325.1,1066.7 C325,1060 327.5,1055.5 332.5,1053.8 C337.5,1052.5 341.8,1056 342.8,1063 C343.6,1075 343,1105 342.3,1124 C342,1130 340.5,1134 336.5,1135.5 C325,1137.5 310,1141 297.4,1145 C285,1149 275,1152.5 268,1157 C259,1163 254,1171 252.8,1185 C252.2,1200 252.4,1240 252.6,1262 C252.8,1272 255,1278.5 262,1281 C272,1283.5 285,1283.5 295,1282.5 C302,1281.5 307,1278 312.5,1274.7 C318,1272.5 324,1270.5 330,1269"/><path d="M233.5,1282.4 C238,1289 244,1294 252,1298 C262,1302.5 275,1304.5 290,1304 C305,1303 320,1300 339,1298.3"/><path d="M311.3,1273.8 C310,1265 311,1255 316,1249 C320,1244.5 326,1243.5 330.5,1247.5 L330,1268.8 C324,1270.5 317,1272.5 311.3,1273.8 Z" fill="#fff" stroke-width="2"/><path d="M321.8,1248.5 C326.8,1251 328,1260 324.5,1265.5" stroke-width="1.8"/><ellipse cx="340.4" cy="1268.7" rx="10.6" ry="31" transform="rotate(-3 340.4 1268.7)" fill="#fff" stroke-width="2"/><path d="M340,1239.5 C334.5,1252 334.5,1285 341.5,1296.8" stroke-width="3.3"/><ellipse cx="345.3" cy="1268" rx="5.2" ry="29" transform="rotate(-4 345.3 1268)" stroke-width="1.8"/></g></g></defs>
<use href="#hookg"/>
<path d="M189.6,1203.3 L222.6,1203.3 C223.5,1201 224,1199.1 226,1199.1 L234.4,1199.1 L234.4,1231.5 L226,1231.5 C224,1231.5 223.5,1229.5 222.6,1227.4 L189.6,1227.4 Z" fill="#8a8a8a" stroke="#777" stroke-width="0.8" stroke-dasharray="1 1"/>
<use href="#scr" transform="matrix(0,-1,1,0,259.9,1215.1)"/>
<circle cx="207.5" cy="1208" r="204" fill="none" stroke="#000" stroke-width="3.4"/>
<path d="M286.6,1049.6 L235.9,1089.2 L262.5,1037.7 A50,50 0 1,1 286.6,1049.6 Z" fill="#fff" stroke="#222" stroke-width="1.3"/>
<text x="272.6" y="1011.7" font-size="22" fill="#111" style="white-space:pre" textLength="47.3" lengthAdjust="spacingAndGlyphs" font-weight="bold">1x A</text>
<path d="M430.5,1260.4 L375.9,1225 L410.7,1277.3 A50,50 0 1,0 430.5,1260.4 Z" fill="#fff" stroke="#222" stroke-width="1.3"/>
<text x="429.5" y="1313.1" font-size="22.2" fill="#111" style="white-space:pre" textLength="46.1" lengthAdjust="spacingAndGlyphs" font-weight="bold">3x C</text>
<path d="M587.6,1255.9 a1.55,1.1 0 1,0 3.1,0 a1.55,1.1 0 1,0 -3.1,0 M735.7,1359.9 a1.55,1.1 0 1,0 3.1,0 a1.55,1.1 0 1,0 -3.1,0 M720.1,1125.9 a1.55,1.1 0 1,0 3.1,0 a1.55,1.1 0 1,0 -3.1,0 M682.2,1141.9 a1.55,1.1 0 1,0 3.1,0 a1.55,1.1 0 1,0 -3.1,0 M728.6,1144.5 a1.55,1.1 0 1,0 3.1,0 a1.55,1.1 0 1,0 -3.1,0 M655.3,1320.4 a1.55,1.1 0 1,0 3.1,0 a1.55,1.1 0 1,0 -3.1,0 M658.9,1131.5 a1.55,1.1 0 1,0 3.1,0 a1.55,1.1 0 1,0 -3.1,0 M708.3,1189.9 a1.55,1.1 0 1,0 3.1,0 a1.55,1.1 0 1,0 -3.1,0 M582.0,1181.3 a1.55,1.1 0 1,0 3.1,0 a1.55,1.1 0 1,0 -3.1,0 M711.5,1124.3 a1.55,1.1 0 1,0 3.1,0 a1.55,1.1 0 1,0 -3.1,0 M734.5,1189.0 a1.55,1.1 0 1,0 3.1,0 a1.55,1.1 0 1,0 -3.1,0 M614.3,1168.7 a1.55,1.1 0 1,0 3.1,0 a1.55,1.1 0 1,0 -3.1,0 M731.7,1259.8 a1.55,1.1 0 1,0 3.1,0 a1.55,1.1 0 1,0 -3.1,0 M627.0,1291.4 a1.55,1.1 0 1,0 3.1,0 a1.55,1.1 0 1,0 -3.1,0 M677.3,1240.9 a1.55,1.1 0 1,0 3.1,0 a1.55,1.1 0 1,0 -3.1,0 M692.7,1341.9 a1.55,1.1 0 1,0 3.1,0 a1.55,1.1 0 1,0 -3.1,0 M665.2,1275.5 a1.55,1.1 0 1,0 3.1,0 a1.55,1.1 0 1,0 -3.1,0 M586.7,1133.5 a1.55,1.1 0 1,0 3.1,0 a1.55,1.1 0 1,0 -3.1,0 M612.1,1171.3 a1.55,1.1 0 1,0 3.1,0 a1.55,1.1 0 1,0 -3.1,0 M709.2,1156.5 a1.55,1.1 0 1,0 3.1,0 a1.55,1.1 0 1,0 -3.1,0 M676.0,1154.7 a1.55,1.1 0 1,0 3.1,0 a1.55,1.1 0 1,0 -3.1,0 M662.6,1255.0 a1.55,1.1 0 1,0 3.1,0 a1.55,1.1 0 1,0 -3.1,0 M673.7,1367.6 a1.55,1.1 0 1,0 3.1,0 a1.55,1.1 0 1,0 -3.1,0 M639.0,1096.3 a1.55,1.1 0 1,0 3.1,0 a1.55,1.1 0 1,0 -3.1,0 M723.6,1247.1 a1.55,1.1 0 1,0 3.1,0 a1.55,1.1 0 1,0 -3.1,0 M649.6,1120.9 a1.55,1.1 0 1,0 3.1,0 a1.55,1.1 0 1,0 -3.1,0 M584.6,1257.6 a1.55,1.1 0 1,0 3.1,0 a1.55,1.1 0 1,0 -3.1,0 M700.5,1104.2 a1.55,1.1 0 1,0 3.1,0 a1.55,1.1 0 1,0 -3.1,0 M614.7,1252.1 a1.55,1.1 0 1,0 3.1,0 a1.55,1.1 0 1,0 -3.1,0 M723.3,1161.3 a1.55,1.1 0 1,0 3.1,0 a1.55,1.1 0 1,0 -3.1,0 M712.8,1084.2 a1.55,1.1 0 1,0 3.1,0 a1.55,1.1 0 1,0 -3.1,0 M685.2,1180.6 a1.55,1.1 0 1,0 3.1,0 a1.55,1.1 0 1,0 -3.1,0 M700.3,1375.6 a1.55,1.1 0 1,0 3.1,0 a1.55,1.1 0 1,0 -3.1,0 M650.6,1138.9 a1.55,1.1 0 1,0 3.1,0 a1.55,1.1 0 1,0 -3.1,0 M666.1,1335.2 a1.55,1.1 0 1,0 3.1,0 a1.55,1.1 0 1,0 -3.1,0 M702.2,1274.7 a1.55,1.1 0 1,0 3.1,0 a1.55,1.1 0 1,0 -3.1,0 M688.3,1058.9 a1.55,1.1 0 1,0 3.1,0 a1.55,1.1 0 1,0 -3.1,0 M717.4,1058.8 a1.55,1.1 0 1,0 3.1,0 a1.55,1.1 0 1,0 -3.1,0 M618.5,1248.9 a1.55,1.1 0 1,0 3.1,0 a1.55,1.1 0 1,0 -3.1,0 M728.0,1156.7 a1.55,1.1 0 1,0 3.1,0 a1.55,1.1 0 1,0 -3.1,0 M660.6,1257.3 a1.55,1.1 0 1,0 3.1,0 a1.55,1.1 0 1,0 -3.1,0 M654.0,1058.6 a1.55,1.1 0 1,0 3.1,0 a1.55,1.1 0 1,0 -3.1,0 M628.4,1304.6 a1.55,1.1 0 1,0 3.1,0 a1.55,1.1 0 1,0 -3.1,0 M688.4,1271.2 a1.55,1.1 0 1,0 3.1,0 a1.55,1.1 0 1,0 -3.1,0 M680.5,1041.2 a1.55,1.1 0 1,0 3.1,0 a1.55,1.1 0 1,0 -3.1,0 M730.3,1281.9 a1.55,1.1 0 1,0 3.1,0 a1.55,1.1 0 1,0 -3.1,0 M680.0,1338.8 a1.55,1.1 0 1,0 3.1,0 a1.55,1.1 0 1,0 -3.1,0 M672.9,1148.6 a1.55,1.1 0 1,0 3.1,0 a1.55,1.1 0 1,0 -3.1,0 M621.7,1254.4 a1.55,1.1 0 1,0 3.1,0 a1.55,1.1 0 1,0 -3.1,0 M677.0,1332.2 a1.55,1.1 0 1,0 3.1,0 a1.55,1.1 0 1,0 -3.1,0 M693.1,1165.4 a1.55,1.1 0 1,0 3.1,0 a1.55,1.1 0 1,0 -3.1,0 M647.7,1314.2 a1.55,1.1 0 1,0 3.1,0 a1.55,1.1 0 1,0 -3.1,0 M591.2,1156.9 a1.55,1.1 0 1,0 3.1,0 a1.55,1.1 0 1,0 -3.1,0 M717.8,1066.1 a1.55,1.1 0 1,0 3.1,0 a1.55,1.1 0 1,0 -3.1,0 M613.6,1099.9 a1.55,1.1 0 1,0 3.1,0 a1.55,1.1 0 1,0 -3.1,0 M683.9,1278.9 a1.55,1.1 0 1,0 3.1,0 a1.55,1.1 0 1,0 -3.1,0 M627.2,1131.2 a1.55,1.1 0 1,0 3.1,0 a1.55,1.1 0 1,0 -3.1,0 M700.0,1171.3 a1.55,1.1 0 1,0 3.1,0 a1.55,1.1 0 1,0 -3.1,0 M654.3,1146.8 a1.55,1.1 0 1,0 3.1,0 a1.55,1.1 0 1,0 -3.1,0 M572.1,1166.1 a1.55,1.1 0 1,0 3.1,0 a1.55,1.1 0 1,0 -3.1,0 M608.1,1170.2 a1.55,1.1 0 1,0 3.1,0 a1.55,1.1 0 1,0 -3.1,0 M690.6,1376.5 a1.55,1.1 0 1,0 3.1,0 a1.55,1.1 0 1,0 -3.1,0 M642.1,1341.2 a1.55,1.1 0 1,0 3.1,0 a1.55,1.1 0 1,0 -3.1,0 M583.6,1131.2 a1.55,1.1 0 1,0 3.1,0 a1.55,1.1 0 1,0 -3.1,0 M698.8,1338.3 a1.55,1.1 0 1,0 3.1,0 a1.55,1.1 0 1,0 -3.1,0 M638.5,1239.4 a1.55,1.1 0 1,0 3.1,0 a1.55,1.1 0 1,0 -3.1,0 M613.4,1156.5 a1.55,1.1 0 1,0 3.1,0 a1.55,1.1 0 1,0 -3.1,0 M696.6,1238.5 a1.55,1.1 0 1,0 3.1,0 a1.55,1.1 0 1,0 -3.1,0 M691.0,1290.1 a1.55,1.1 0 1,0 3.1,0 a1.55,1.1 0 1,0 -3.1,0 M705.8,1160.0 a1.55,1.1 0 1,0 3.1,0 a1.55,1.1 0 1,0 -3.1,0 M609.3,1279.8 a1.55,1.1 0 1,0 3.1,0 a1.55,1.1 0 1,0 -3.1,0 M729.8,1253.7 a1.55,1.1 0 1,0 3.1,0 a1.55,1.1 0 1,0 -3.1,0 M638.5,1151.9 a1.55,1.1 0 1,0 3.1,0 a1.55,1.1 0 1,0 -3.1,0 M708.4,1300.5 a1.55,1.1 0 1,0 3.1,0 a1.55,1.1 0 1,0 -3.1,0 M702.7,1052.2 a1.55,1.1 0 1,0 3.1,0 a1.55,1.1 0 1,0 -3.1,0 M733.4,1247.2 a1.55,1.1 0 1,0 3.1,0 a1.55,1.1 0 1,0 -3.1,0 M706.2,1175.1 a1.55,1.1 0 1,0 3.1,0 a1.55,1.1 0 1,0 -3.1,0 M647.8,1363.8 a1.55,1.1 0 1,0 3.1,0 a1.55,1.1 0 1,0 -3.1,0 M601.1,1117.0 a1.55,1.1 0 1,0 3.1,0 a1.55,1.1 0 1,0 -3.1,0 M605.6,1147.5 a1.55,1.1 0 1,0 3.1,0 a1.55,1.1 0 1,0 -3.1,0 M671.7,1167.5 a1.55,1.1 0 1,0 3.1,0 a1.55,1.1 0 1,0 -3.1,0 M672.6,1330.6 a1.55,1.1 0 1,0 3.1,0 a1.55,1.1 0 1,0 -3.1,0 M666.2,1079.4 a1.55,1.1 0 1,0 3.1,0 a1.55,1.1 0 1,0 -3.1,0 M618.0,1160.2 a1.55,1.1 0 1,0 3.1,0 a1.55,1.1 0 1,0 -3.1,0 M696.6,1295.5 a1.55,1.1 0 1,0 3.1,0 a1.55,1.1 0 1,0 -3.1,0 M692.9,1253.3 a1.55,1.1 0 1,0 3.1,0 a1.55,1.1 0 1,0 -3.1,0 M653.9,1369.6 a1.55,1.1 0 1,0 3.1,0 a1.55,1.1 0 1,0 -3.1,0 M600.6,1128.7 a1.55,1.1 0 1,0 3.1,0 a1.55,1.1 0 1,0 -3.1,0 M672.4,1370.1 a1.55,1.1 0 1,0 3.1,0 a1.55,1.1 0 1,0 -3.1,0 M674.3,1316.7 a1.55,1.1 0 1,0 3.1,0 a1.55,1.1 0 1,0 -3.1,0 M722.0,1127.3 a1.55,1.1 0 1,0 3.1,0 a1.55,1.1 0 1,0 -3.1,0 M669.2,1079.0 a1.55,1.1 0 1,0 3.1,0 a1.55,1.1 0 1,0 -3.1,0 M691.2,1029.0 a1.55,1.1 0 1,0 3.1,0 a1.55,1.1 0 1,0 -3.1,0 M709.7,1394.5 a1.55,1.1 0 1,0 3.1,0 a1.55,1.1 0 1,0 -3.1,0 M682.7,1307.1 a1.55,1.1 0 1,0 3.1,0 a1.55,1.1 0 1,0 -3.1,0 M689.8,1124.7 a1.55,1.1 0 1,0 3.1,0 a1.55,1.1 0 1,0 -3.1,0 M724.4,1159.9 a1.55,1.1 0 1,0 3.1,0 a1.55,1.1 0 1,0 -3.1,0 M664.3,1124.8 a1.55,1.1 0 1,0 3.1,0 a1.55,1.1 0 1,0 -3.1,0 M572.1,1175.7 a1.55,1.1 0 1,0 3.1,0 a1.55,1.1 0 1,0 -3.1,0 M680.2,1033.9 a1.55,1.1 0 1,0 3.1,0 a1.55,1.1 0 1,0 -3.1,0 M734.2,1184.6 a1.55,1.1 0 1,0 3.1,0 a1.55,1.1 0 1,0 -3.1,0 M676.5,1263.4 a1.55,1.1 0 1,0 3.1,0 a1.55,1.1 0 1,0 -3.1,0 M696.0,1367.8 a1.55,1.1 0 1,0 3.1,0 a1.55,1.1 0 1,0 -3.1,0 M637.2,1114.5 a1.55,1.1 0 1,0 3.1,0 a1.55,1.1 0 1,0 -3.1,0 M613.5,1275.9 a1.55,1.1 0 1,0 3.1,0 a1.55,1.1 0 1,0 -3.1,0 M718.6,1084.2 a1.55,1.1 0 1,0 3.1,0 a1.55,1.1 0 1,0 -3.1,0 M724.7,1386.5 a1.55,1.1 0 1,0 3.1,0 a1.55,1.1 0 1,0 -3.1,0 M595.7,1179.0 a1.55,1.1 0 1,0 3.1,0 a1.55,1.1 0 1,0 -3.1,0 M734.4,1290.4 a1.55,1.1 0 1,0 3.1,0 a1.55,1.1 0 1,0 -3.1,0 M582.7,1266.6 a1.55,1.1 0 1,0 3.1,0 a1.55,1.1 0 1,0 -3.1,0 M691.6,1058.5 a1.55,1.1 0 1,0 3.1,0 a1.55,1.1 0 1,0 -3.1,0 M670.4,1327.5 a1.55,1.1 0 1,0 3.1,0 a1.55,1.1 0 1,0 -3.1,0 M630.9,1145.1 a1.55,1.1 0 1,0 3.1,0 a1.55,1.1 0 1,0 -3.1,0 M708.9,1060.3 a1.55,1.1 0 1,0 3.1,0 a1.55,1.1 0 1,0 -3.1,0 M599.6,1189.2 a1.55,1.1 0 1,0 3.1,0 a1.55,1.1 0 1,0 -3.1,0 M578.7,1143.6 a1.55,1.1 0 1,0 3.1,0 a1.55,1.1 0 1,0 -3.1,0 M733.1,1111.4 a1.55,1.1 0 1,0 3.1,0 a1.55,1.1 0 1,0 -3.1,0 M700.8,1306.4 a1.55,1.1 0 1,0 3.1,0 a1.55,1.1 0 1,0 -3.1,0 M708.8,1259.3 a1.55,1.1 0 1,0 3.1,0 a1.55,1.1 0 1,0 -3.1,0 M673.6,1104.3 a1.55,1.1 0 1,0 3.1,0 a1.55,1.1 0 1,0 -3.1,0 M650.0,1359.5 a1.55,1.1 0 1,0 3.1,0 a1.55,1.1 0 1,0 -3.1,0 M670.5,1253.7 a1.55,1.1 0 1,0 3.1,0 a1.55,1.1 0 1,0 -3.1,0 M729.8,1049.3 a1.55,1.1 0 1,0 3.1,0 a1.55,1.1 0 1,0 -3.1,0 M683.3,1041.9 a1.55,1.1 0 1,0 3.1,0 a1.55,1.1 0 1,0 -3.1,0 M608.6,1125.8 a1.55,1.1 0 1,0 3.1,0 a1.55,1.1 0 1,0 -3.1,0 M649.5,1284.4 a1.55,1.1 0 1,0 3.1,0 a1.55,1.1 0 1,0 -3.1,0 M663.9,1376.1 a1.55,1.1 0 1,0 3.1,0 a1.55,1.1 0 1,0 -3.1,0 M710.0,1123.8 a1.55,1.1 0 1,0 3.1,0 a1.55,1.1 0 1,0 -3.1,0 M609.0,1170.6 a1.55,1.1 0 1,0 3.1,0 a1.55,1.1 0 1,0 -3.1,0 M581.5,1173.8 a1.55,1.1 0 1,0 3.1,0 a1.55,1.1 0 1,0 -3.1,0 M658.5,1182.5 a1.55,1.1 0 1,0 3.1,0 a1.55,1.1 0 1,0 -3.1,0 M656.1,1060.9 a1.55,1.1 0 1,0 3.1,0 a1.55,1.1 0 1,0 -3.1,0 M613.1,1307.6 a1.55,1.1 0 1,0 3.1,0 a1.55,1.1 0 1,0 -3.1,0 M685.2,1301.4 a1.55,1.1 0 1,0 3.1,0 a1.55,1.1 0 1,0 -3.1,0" fill="none" stroke="#222" stroke-width="1.4"/>
<path d="M672.9,1306.6 a1.25,1.15 0 1,0 2.5,0 a1.25,1.15 0 1,0 -2.5,0 M729.0,1305.9 a1.25,1.15 0 1,0 2.5,0 a1.25,1.15 0 1,0 -2.5,0 M729.1,1268.8 a1.25,1.15 0 1,0 2.5,0 a1.25,1.15 0 1,0 -2.5,0 M601.6,1118.0 a1.25,1.15 0 1,0 2.5,0 a1.25,1.15 0 1,0 -2.5,0 M697.9,1069.1 a1.25,1.15 0 1,0 2.5,0 a1.25,1.15 0 1,0 -2.5,0 M682.5,1087.6 a1.25,1.15 0 1,0 2.5,0 a1.25,1.15 0 1,0 -2.5,0 M687.2,1027.3 a1.25,1.15 0 1,0 2.5,0 a1.25,1.15 0 1,0 -2.5,0 M701.8,1153.4 a1.25,1.15 0 1,0 2.5,0 a1.25,1.15 0 1,0 -2.5,0 M598.0,1312.3 a1.25,1.15 0 1,0 2.5,0 a1.25,1.15 0 1,0 -2.5,0 M694.9,1329.3 a1.25,1.15 0 1,0 2.5,0 a1.25,1.15 0 1,0 -2.5,0 M579.6,1143.0 a1.25,1.15 0 1,0 2.5,0 a1.25,1.15 0 1,0 -2.5,0 M724.7,1142.7 a1.25,1.15 0 1,0 2.5,0 a1.25,1.15 0 1,0 -2.5,0 M589.7,1285.2 a1.25,1.15 0 1,0 2.5,0 a1.25,1.15 0 1,0 -2.5,0 M634.8,1100.8 a1.25,1.15 0 1,0 2.5,0 a1.25,1.15 0 1,0 -2.5,0 M710.7,1057.3 a1.25,1.15 0 1,0 2.5,0 a1.25,1.15 0 1,0 -2.5,0 M730.2,1261.2 a1.25,1.15 0 1,0 2.5,0 a1.25,1.15 0 1,0 -2.5,0 M611.3,1323.1 a1.25,1.15 0 1,0 2.5,0 a1.25,1.15 0 1,0 -2.5,0 M627.0,1324.7 a1.25,1.15 0 1,0 2.5,0 a1.25,1.15 0 1,0 -2.5,0 M685.5,1274.9 a1.25,1.15 0 1,0 2.5,0 a1.25,1.15 0 1,0 -2.5,0 M648.8,1318.1 a1.25,1.15 0 1,0 2.5,0 a1.25,1.15 0 1,0 -2.5,0 M659.5,1106.3 a1.25,1.15 0 1,0 2.5,0 a1.25,1.15 0 1,0 -2.5,0 M644.8,1337.2 a1.25,1.15 0 1,0 2.5,0 a1.25,1.15 0 1,0 -2.5,0 M703.5,1145.9 a1.25,1.15 0 1,0 2.5,0 a1.25,1.15 0 1,0 -2.5,0 M711.5,1358.9 a1.25,1.15 0 1,0 2.5,0 a1.25,1.15 0 1,0 -2.5,0 M734.9,1394.3 a1.25,1.15 0 1,0 2.5,0 a1.25,1.15 0 1,0 -2.5,0 M656.4,1071.8 a1.25,1.15 0 1,0 2.5,0 a1.25,1.15 0 1,0 -2.5,0 M684.9,1297.6 a1.25,1.15 0 1,0 2.5,0 a1.25,1.15 0 1,0 -2.5,0 M673.0,1320.1 a1.25,1.15 0 1,0 2.5,0 a1.25,1.15 0 1,0 -2.5,0 M591.6,1184.0 a1.25,1.15 0 1,0 2.5,0 a1.25,1.15 0 1,0 -2.5,0 M602.0,1283.9 a1.25,1.15 0 1,0 2.5,0 a1.25,1.15 0 1,0 -2.5,0 M645.2,1159.2 a1.25,1.15 0 1,0 2.5,0 a1.25,1.15 0 1,0 -2.5,0 M667.1,1101.0 a1.25,1.15 0 1,0 2.5,0 a1.25,1.15 0 1,0 -2.5,0 M671.2,1042.7 a1.25,1.15 0 1,0 2.5,0 a1.25,1.15 0 1,0 -2.5,0 M623.1,1241.0 a1.25,1.15 0 1,0 2.5,0 a1.25,1.15 0 1,0 -2.5,0 M707.2,1175.0 a1.25,1.15 0 1,0 2.5,0 a1.25,1.15 0 1,0 -2.5,0 M731.5,1398.9 a1.25,1.15 0 1,0 2.5,0 a1.25,1.15 0 1,0 -2.5,0 M734.2,1159.0 a1.25,1.15 0 1,0 2.5,0 a1.25,1.15 0 1,0 -2.5,0 M636.5,1134.2 a1.25,1.15 0 1,0 2.5,0 a1.25,1.15 0 1,0 -2.5,0 M615.0,1322.9 a1.25,1.15 0 1,0 2.5,0 a1.25,1.15 0 1,0 -2.5,0 M676.7,1250.4 a1.25,1.15 0 1,0 2.5,0 a1.25,1.15 0 1,0 -2.5,0 M622.5,1125.1 a1.25,1.15 0 1,0 2.5,0 a1.25,1.15 0 1,0 -2.5,0 M645.0,1151.3 a1.25,1.15 0 1,0 2.5,0 a1.25,1.15 0 1,0 -2.5,0 M607.9,1189.9 a1.25,1.15 0 1,0 2.5,0 a1.25,1.15 0 1,0 -2.5,0 M638.6,1238.9 a1.25,1.15 0 1,0 2.5,0 a1.25,1.15 0 1,0 -2.5,0 M709.2,1031.0 a1.25,1.15 0 1,0 2.5,0 a1.25,1.15 0 1,0 -2.5,0 M602.0,1267.5 a1.25,1.15 0 1,0 2.5,0 a1.25,1.15 0 1,0 -2.5,0 M724.7,1065.1 a1.25,1.15 0 1,0 2.5,0 a1.25,1.15 0 1,0 -2.5,0 M636.2,1069.8 a1.25,1.15 0 1,0 2.5,0 a1.25,1.15 0 1,0 -2.5,0 M573.7,1238.7 a1.25,1.15 0 1,0 2.5,0 a1.25,1.15 0 1,0 -2.5,0 M685.9,1065.7 a1.25,1.15 0 1,0 2.5,0 a1.25,1.15 0 1,0 -2.5,0 M660.4,1107.7 a1.25,1.15 0 1,0 2.5,0 a1.25,1.15 0 1,0 -2.5,0 M667.8,1101.3 a1.25,1.15 0 1,0 2.5,0 a1.25,1.15 0 1,0 -2.5,0 M647.9,1135.9 a1.25,1.15 0 1,0 2.5,0 a1.25,1.15 0 1,0 -2.5,0 M631.2,1059.7 a1.25,1.15 0 1,0 2.5,0 a1.25,1.15 0 1,0 -2.5,0 M646.1,1367.0 a1.25,1.15 0 1,0 2.5,0 a1.25,1.15 0 1,0 -2.5,0 M729.5,1052.1 a1.25,1.15 0 1,0 2.5,0 a1.25,1.15 0 1,0 -2.5,0 M614.6,1279.2 a1.25,1.15 0 1,0 2.5,0 a1.25,1.15 0 1,0 -2.5,0 M577.3,1167.6 a1.25,1.15 0 1,0 2.5,0 a1.25,1.15 0 1,0 -2.5,0 M613.2,1302.8 a1.25,1.15 0 1,0 2.5,0 a1.25,1.15 0 1,0 -2.5,0 M681.5,1387.7 a1.25,1.15 0 1,0 2.5,0 a1.25,1.15 0 1,0 -2.5,0 M734.1,1077.2 a1.25,1.15 0 1,0 2.5,0 a1.25,1.15 0 1,0 -2.5,0 M725.2,1248.1 a1.25,1.15 0 1,0 2.5,0 a1.25,1.15 0 1,0 -2.5,0 M663.8,1157.7 a1.25,1.15 0 1,0 2.5,0 a1.25,1.15 0 1,0 -2.5,0 M637.4,1132.1 a1.25,1.15 0 1,0 2.5,0 a1.25,1.15 0 1,0 -2.5,0 M661.1,1369.6 a1.25,1.15 0 1,0 2.5,0 a1.25,1.15 0 1,0 -2.5,0 M706.9,1271.4 a1.25,1.15 0 1,0 2.5,0 a1.25,1.15 0 1,0 -2.5,0 M656.6,1073.8 a1.25,1.15 0 1,0 2.5,0 a1.25,1.15 0 1,0 -2.5,0 M639.7,1184.1 a1.25,1.15 0 1,0 2.5,0 a1.25,1.15 0 1,0 -2.5,0 M735.2,1017.4 a1.25,1.15 0 1,0 2.5,0 a1.25,1.15 0 1,0 -2.5,0 M662.3,1149.7 a1.25,1.15 0 1,0 2.5,0 a1.25,1.15 0 1,0 -2.5,0 M736.0,1346.8 a1.25,1.15 0 1,0 2.5,0 a1.25,1.15 0 1,0 -2.5,0 M721.5,1085.3 a1.25,1.15 0 1,0 2.5,0 a1.25,1.15 0 1,0 -2.5,0 M620.4,1282.6 a1.25,1.15 0 1,0 2.5,0 a1.25,1.15 0 1,0 -2.5,0 M687.0,1166.8 a1.25,1.15 0 1,0 2.5,0 a1.25,1.15 0 1,0 -2.5,0 M706.7,1380.9 a1.25,1.15 0 1,0 2.5,0 a1.25,1.15 0 1,0 -2.5,0 M703.7,1152.0 a1.25,1.15 0 1,0 2.5,0 a1.25,1.15 0 1,0 -2.5,0 M578.9,1149.2 a1.25,1.15 0 1,0 2.5,0 a1.25,1.15 0 1,0 -2.5,0 M726.6,1116.0 a1.25,1.15 0 1,0 2.5,0 a1.25,1.15 0 1,0 -2.5,0 M721.0,1284.6 a1.25,1.15 0 1,0 2.5,0 a1.25,1.15 0 1,0 -2.5,0 M632.0,1076.7 a1.25,1.15 0 1,0 2.5,0 a1.25,1.15 0 1,0 -2.5,0 M721.4,1375.4 a1.25,1.15 0 1,0 2.5,0 a1.25,1.15 0 1,0 -2.5,0 M689.1,1156.6 a1.25,1.15 0 1,0 2.5,0 a1.25,1.15 0 1,0 -2.5,0 M709.3,1362.5 a1.25,1.15 0 1,0 2.5,0 a1.25,1.15 0 1,0 -2.5,0 M636.7,1177.6 a1.25,1.15 0 1,0 2.5,0 a1.25,1.15 0 1,0 -2.5,0 M667.9,1267.7 a1.25,1.15 0 1,0 2.5,0 a1.25,1.15 0 1,0 -2.5,0 M712.8,1267.2 a1.25,1.15 0 1,0 2.5,0 a1.25,1.15 0 1,0 -2.5,0 M603.8,1288.3 a1.25,1.15 0 1,0 2.5,0 a1.25,1.15 0 1,0 -2.5,0 M671.6,1046.8 a1.25,1.15 0 1,0 2.5,0 a1.25,1.15 0 1,0 -2.5,0 M692.8,1337.1 a1.25,1.15 0 1,0 2.5,0 a1.25,1.15 0 1,0 -2.5,0 M688.7,1381.0 a1.25,1.15 0 1,0 2.5,0 a1.25,1.15 0 1,0 -2.5,0 M668.3,1156.8 a1.25,1.15 0 1,0 2.5,0 a1.25,1.15 0 1,0 -2.5,0 M729.4,1033.5 a1.25,1.15 0 1,0 2.5,0 a1.25,1.15 0 1,0 -2.5,0 M647.6,1148.5 a1.25,1.15 0 1,0 2.5,0 a1.25,1.15 0 1,0 -2.5,0 M651.1,1288.3 a1.25,1.15 0 1,0 2.5,0 a1.25,1.15 0 1,0 -2.5,0 M579.7,1149.2 a1.25,1.15 0 1,0 2.5,0 a1.25,1.15 0 1,0 -2.5,0 M731.1,1284.3 a1.25,1.15 0 1,0 2.5,0 a1.25,1.15 0 1,0 -2.5,0 M572.9,1164.2 a1.25,1.15 0 1,0 2.5,0 a1.25,1.15 0 1,0 -2.5,0 M639.8,1246.2 a1.25,1.15 0 1,0 2.5,0 a1.25,1.15 0 1,0 -2.5,0 M636.1,1360.7 a1.25,1.15 0 1,0 2.5,0 a1.25,1.15 0 1,0 -2.5,0 M724.2,1158.4 a1.25,1.15 0 1,0 2.5,0 a1.25,1.15 0 1,0 -2.5,0 M700.6,1176.2 a1.25,1.15 0 1,0 2.5,0 a1.25,1.15 0 1,0 -2.5,0 M576.5,1159.5 a1.25,1.15 0 1,0 2.5,0 a1.25,1.15 0 1,0 -2.5,0 M708.9,1396.0 a1.25,1.15 0 1,0 2.5,0 a1.25,1.15 0 1,0 -2.5,0 M695.9,1156.2 a1.25,1.15 0 1,0 2.5,0 a1.25,1.15 0 1,0 -2.5,0 M698.9,1174.9 a1.25,1.15 0 1,0 2.5,0 a1.25,1.15 0 1,0 -2.5,0 M615.8,1187.6 a1.25,1.15 0 1,0 2.5,0 a1.25,1.15 0 1,0 -2.5,0 M725.9,1155.1 a1.25,1.15 0 1,0 2.5,0 a1.25,1.15 0 1,0 -2.5,0 M688.7,1386.4 a1.25,1.15 0 1,0 2.5,0 a1.25,1.15 0 1,0 -2.5,0 M577.1,1187.1 a1.25,1.15 0 1,0 2.5,0 a1.25,1.15 0 1,0 -2.5,0 M656.3,1162.6 a1.25,1.15 0 1,0 2.5,0 a1.25,1.15 0 1,0 -2.5,0 M717.4,1183.0 a1.25,1.15 0 1,0 2.5,0 a1.25,1.15 0 1,0 -2.5,0 M666.9,1051.9 a1.25,1.15 0 1,0 2.5,0 a1.25,1.15 0 1,0 -2.5,0 M644.3,1268.7 a1.25,1.15 0 1,0 2.5,0 a1.25,1.15 0 1,0 -2.5,0 M690.1,1032.3 a1.25,1.15 0 1,0 2.5,0 a1.25,1.15 0 1,0 -2.5,0 M711.6,1053.2 a1.25,1.15 0 1,0 2.5,0 a1.25,1.15 0 1,0 -2.5,0 M638.2,1257.6 a1.25,1.15 0 1,0 2.5,0 a1.25,1.15 0 1,0 -2.5,0 M657.6,1371.3 a1.25,1.15 0 1,0 2.5,0 a1.25,1.15 0 1,0 -2.5,0 M679.8,1175.2 a1.25,1.15 0 1,0 2.5,0 a1.25,1.15 0 1,0 -2.5,0 M609.0,1149.9 a1.25,1.15 0 1,0 2.5,0 a1.25,1.15 0 1,0 -2.5,0 M610.0,1260.8 a1.25,1.15 0 1,0 2.5,0 a1.25,1.15 0 1,0 -2.5,0 M731.4,1051.5 a1.25,1.15 0 1,0 2.5,0 a1.25,1.15 0 1,0 -2.5,0 M674.5,1348.5 a1.25,1.15 0 1,0 2.5,0 a1.25,1.15 0 1,0 -2.5,0 M631.0,1263.6 a1.25,1.15 0 1,0 2.5,0 a1.25,1.15 0 1,0 -2.5,0 M689.4,1171.5 a1.25,1.15 0 1,0 2.5,0 a1.25,1.15 0 1,0 -2.5,0 M702.3,1369.7 a1.25,1.15 0 1,0 2.5,0 a1.25,1.15 0 1,0 -2.5,0 M638.6,1089.4 a1.25,1.15 0 1,0 2.5,0 a1.25,1.15 0 1,0 -2.5,0 M724.7,1159.8 a1.25,1.15 0 1,0 2.5,0 a1.25,1.15 0 1,0 -2.5,0 M724.8,1136.9 a1.25,1.15 0 1,0 2.5,0 a1.25,1.15 0 1,0 -2.5,0 M646.1,1313.5 a1.25,1.15 0 1,0 2.5,0 a1.25,1.15 0 1,0 -2.5,0" fill="#222"/>
<line x1="740.3" y1="1004.5" x2="740.3" y2="1411.5" stroke="#000" stroke-width="2.5"/>
<use href="#hookg" transform="translate(552.5,0)"/>
<line x1="743.9" y1="1091" x2="743.9" y2="1301" stroke="#111" stroke-width="2"/>
<g clip-path="url(#c5)" fill="#fff" stroke="#222" stroke-width="1.2" stroke-linejoin="round">
<path d="M560,1205 L567,1205.4 C570,1202 572.5,1199.5 575.3,1198.8 C579,1198 582,1198.2 585.3,1198 C590,1197 595,1196 600.2,1195.5 C605,1194.5 609,1193 613.5,1193 C617.5,1193 621,1193.8 625.1,1193.8 C629,1194 633,1195.2 636.8,1195.5 C641,1196 645,1197 649.2,1197.1 L668.5,1200 L741,1201.6 L741,1229 L668.5,1227.2 L650,1230.4 C645,1231 640,1231.2 635,1231.2 C631,1232 628,1233.3 625.1,1233.3 C621,1233.5 617,1233.7 613.5,1233.7 C609,1233.5 605,1232.5 601,1232 C596,1231.3 591,1230 586.9,1229.5 C583,1229 580,1228.5 577,1227.9 C573,1225.5 570,1223 567.8,1220.4 L560,1220 Z" stroke-width="1.4"/>
<path fill="none" stroke-width="1.3" d="M585.3,1198 L585.3,1204.5 M600.2,1195.5 L602.5,1224.5 L601,1232 M602.5,1224.5 L619.3,1226.3 L618.5,1233.6 M619.3,1226.3 L618.5,1221 M634.3,1221.2 L635,1231.2 M650,1223.8 L650,1230.4 M585.3,1204.5 L603.5,1202 M567.8,1220.4 C572,1216 576,1214 579,1210 M575,1227.5 L578.5,1218 L585,1215.5 L589,1221 L586.9,1229.5 M589,1221 L594.5,1211.5 L601.5,1213 M570,1209 L580,1208.5 L590,1209 L599,1206"/>
<path d="M601.9,1205.5 L617.6,1203.3 L617.6,1200.5 L635,1203 L636.8,1206.3 L676.6,1212.9 L634.3,1221.2 L601.9,1224.5 Z" fill="#fff" stroke-width="1.3"/>
<path fill="none" d="M606.9,1206.3 L605.7,1221.0 M610.0,1206.7 L608.8,1220.5 M615.2,1207.3 L614.0,1219.6 M618.5,1207.7 L617.3,1219.0 M624.3,1208.4 L623.1,1218.0 M627.5,1208.8 L626.3,1217.5 M633.4,1209.5 L632.2,1216.5 M636.5,1209.9 L635.3,1216.0 M641.7,1210.5 L640.5,1215.1 M650.0,1211.5 L648.8,1213.7 M657.0,1212.4 L655.8,1212.5" stroke="#333" stroke-width="1.6"/>
<path d="M649.2,1197.1 L666.7,1192.6 L668.3,1201.7 L650,1201.3 Z M650.9,1230.4 L666.7,1225.4 L669.1,1234.5 L651,1234.3 Z" stroke-width="1.4"/>
<path d="M740.2,1198.3 C746,1198.3 749.4,1205 749.4,1214.5 C749.4,1224 746,1230.7 740.2,1230.7 Z"/>
<path fill="none" d="M743,1200 C746.5,1203 747.5,1209 747.5,1214.5 C747.5,1220 746.5,1226 743,1229"/>
</g>
<g stroke="#555" fill="none" stroke-width="1.1">
<path d="M749.4,1204 L782.6,1202 L782.6,1226 L749.4,1224 Z" fill="#fff" stroke="#888"/>
<path d="M752,1199.5 L781,1197.5 M752,1229 L781,1231" stroke="#777" stroke-width="2.2" stroke-dasharray="1.5 1"/>
<path d="M755,1202 C758,1208 758,1220 755,1227 M757,1202 C760,1208 760,1220 757,1227" stroke="#444"/>
<path d="M760.5,1202 C763.5,1208 763.5,1220 760.5,1227 M762.5,1202 C765.5,1208 765.5,1220 762.5,1227" stroke="#444"/>
<path d="M766,1202 C769,1208 769,1220 766,1227 M768,1202 C771,1208 771,1220 768,1227" stroke="#444"/>
<path d="M771.5,1202 C774.5,1208 774.5,1220 771.5,1227 M773.5,1202 C776.5,1208 776.5,1220 773.5,1227" stroke="#444"/>
<path d="M777,1202 C780,1208 780,1220 777,1227 M779,1202 C782,1208 782,1220 779,1227" stroke="#444"/>
</g>
<path d="M782.6,1201 L795,1196.5 C800,1196 802,1204 802,1213.2 C802,1222 800,1230.5 795,1230 L782.6,1225.5 Z" fill="#fff" stroke="#222" stroke-width="1.3"/>
<ellipse cx="797.3" cy="1213.2" rx="4.6" ry="16.8" fill="none" stroke="#222" stroke-width="1.2"/>
<circle cx="768.8" cy="1208" r="204" fill="none" stroke="#000" stroke-width="3.4"/>
<g font-size="35.9" font-weight="bold" fill="#000"><text x="76" y="895.4" textLength="102.1" lengthAdjust="spacingAndGlyphs">Step 1</text><text x="685.4" y="895.4" textLength="106.2" lengthAdjust="spacingAndGlyphs">Step 2</text><text x="1213.4" y="895.4" textLength="105.5" lengthAdjust="spacingAndGlyphs">Step 3</text><text x="163.9" y="1457.8" font-size="35.4" textLength="105.5" lengthAdjust="spacingAndGlyphs">Step 4</text><text x="725.4" y="1458" font-size="35.4" textLength="106.1" lengthAdjust="spacingAndGlyphs">Step 5</text></g>
</svg>
</body></html>
